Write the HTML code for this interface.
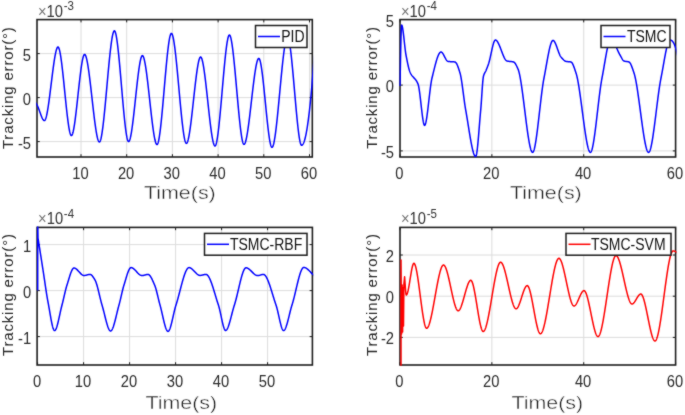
<!DOCTYPE html>
<html><head><meta charset="utf-8"><style>
html,body{margin:0;padding:0;background:#fff;}
svg{display:block;}
text{font-family:"Liberation Sans", sans-serif;}
.tk{font-size:16px;fill:#2a2a2a;}
.ex{font-size:16px;fill:#333;}
.mul{fill:#777;}
.sup{font-size:12.5px;}
.xl{font-size:18px;fill:#1a1a1a;stroke:#fff;stroke-width:0.4px;}
.yl{font-size:15px;fill:#262626;letter-spacing:0.82px;}
.lg{font-size:16px;fill:#111;}
</style></head><body>
<svg width="685" height="415" viewBox="0 0 685 415">
<defs><filter id="bl" filterUnits="userSpaceOnUse" x="0" y="0" width="685" height="415" color-interpolation-filters="sRGB"><feConvolveMatrix order="3" kernelMatrix="1 2 1 2 20 2 1 2 1" divisor="32" edgeMode="duplicate"/></filter></defs>
<rect width="685" height="415" fill="#fff"/>
<g filter="url(#bl)">
<line x1="81.0" y1="19.6" x2="81.0" y2="157.0" stroke="#dcdcdc" stroke-width="1"/>
<line x1="126.7" y1="19.6" x2="126.7" y2="157.0" stroke="#dcdcdc" stroke-width="1"/>
<line x1="172.40000000000003" y1="19.6" x2="172.40000000000003" y2="157.0" stroke="#dcdcdc" stroke-width="1"/>
<line x1="218.10000000000002" y1="19.6" x2="218.10000000000002" y2="157.0" stroke="#dcdcdc" stroke-width="1"/>
<line x1="263.8" y1="19.6" x2="263.8" y2="157.0" stroke="#dcdcdc" stroke-width="1"/>
<line x1="309.50000000000006" y1="19.6" x2="309.50000000000006" y2="157.0" stroke="#dcdcdc" stroke-width="1"/>
<line x1="37" y1="53.6" x2="312.3" y2="53.6" stroke="#dcdcdc" stroke-width="1"/>
<line x1="37" y1="97.6" x2="312.3" y2="97.6" stroke="#dcdcdc" stroke-width="1"/>
<line x1="37" y1="141.6" x2="312.3" y2="141.6" stroke="#dcdcdc" stroke-width="1"/>
<line x1="81.0" y1="157.0" x2="81.0" y2="154.2" stroke="#1e1e1e" stroke-width="1"/>
<line x1="81.0" y1="19.6" x2="81.0" y2="22.400000000000002" stroke="#1e1e1e" stroke-width="1"/>
<line x1="126.7" y1="157.0" x2="126.7" y2="154.2" stroke="#1e1e1e" stroke-width="1"/>
<line x1="126.7" y1="19.6" x2="126.7" y2="22.400000000000002" stroke="#1e1e1e" stroke-width="1"/>
<line x1="172.40000000000003" y1="157.0" x2="172.40000000000003" y2="154.2" stroke="#1e1e1e" stroke-width="1"/>
<line x1="172.40000000000003" y1="19.6" x2="172.40000000000003" y2="22.400000000000002" stroke="#1e1e1e" stroke-width="1"/>
<line x1="218.10000000000002" y1="157.0" x2="218.10000000000002" y2="154.2" stroke="#1e1e1e" stroke-width="1"/>
<line x1="218.10000000000002" y1="19.6" x2="218.10000000000002" y2="22.400000000000002" stroke="#1e1e1e" stroke-width="1"/>
<line x1="263.8" y1="157.0" x2="263.8" y2="154.2" stroke="#1e1e1e" stroke-width="1"/>
<line x1="263.8" y1="19.6" x2="263.8" y2="22.400000000000002" stroke="#1e1e1e" stroke-width="1"/>
<line x1="309.50000000000006" y1="157.0" x2="309.50000000000006" y2="154.2" stroke="#1e1e1e" stroke-width="1"/>
<line x1="309.50000000000006" y1="19.6" x2="309.50000000000006" y2="22.400000000000002" stroke="#1e1e1e" stroke-width="1"/>
<line x1="37" y1="53.6" x2="39.8" y2="53.6" stroke="#1e1e1e" stroke-width="1"/>
<line x1="312.3" y1="53.6" x2="309.5" y2="53.6" stroke="#1e1e1e" stroke-width="1"/>
<line x1="37" y1="97.6" x2="39.8" y2="97.6" stroke="#1e1e1e" stroke-width="1"/>
<line x1="312.3" y1="97.6" x2="309.5" y2="97.6" stroke="#1e1e1e" stroke-width="1"/>
<line x1="37" y1="141.6" x2="39.8" y2="141.6" stroke="#1e1e1e" stroke-width="1"/>
<line x1="312.3" y1="141.6" x2="309.5" y2="141.6" stroke="#1e1e1e" stroke-width="1"/>
<rect x="37" y="19.6" width="275.3" height="137.4" fill="none" stroke="#1e1e1e" stroke-width="1.6"/>
<clipPath id="c1"><rect x="36.2" y="18.8" width="276.90000000000003" height="139.0"/></clipPath>
<g clip-path="url(#c1)"><path d="M35.00,101.73 L35.25,102.12 L35.50,102.52 L35.75,102.92 L36.00,103.33 L36.25,103.74 L36.50,104.16 L36.75,104.58 L37.00,105.00 L37.25,105.45 L37.50,105.94 L37.75,106.48 L38.00,107.05 L38.25,107.65 L38.50,108.28 L38.75,108.94 L39.00,109.61 L39.25,110.30 L39.50,111.00 L39.75,111.71 L40.00,112.42 L40.25,113.12 L40.50,113.82 L40.75,114.51 L41.00,115.18 L41.25,115.84 L41.50,116.47 L41.75,117.07 L42.00,117.64 L42.25,118.17 L42.50,118.66 L42.75,119.11 L43.00,119.50 L43.25,119.84 L43.50,120.13 L43.75,120.35 L44.00,120.50 L44.25,120.59 L44.50,120.59 L44.75,120.46 L45.00,120.18 L45.25,119.77 L45.50,119.23 L45.75,118.57 L46.00,117.78 L46.25,116.88 L46.50,115.88 L46.75,114.77 L47.00,113.56 L47.25,112.26 L47.50,110.87 L47.75,109.40 L48.00,107.86 L48.25,106.24 L48.50,104.57 L48.75,102.83 L49.00,101.04 L49.25,99.20 L49.50,97.31 L49.75,95.39 L50.00,93.44 L50.25,91.46 L50.50,89.46 L50.75,87.45 L51.00,85.42 L51.25,83.39 L51.50,81.37 L51.75,79.35 L52.00,77.34 L52.25,75.34 L52.50,73.38 L52.75,71.44 L53.00,69.53 L53.25,67.66 L53.50,65.84 L53.75,64.07 L54.00,62.36 L54.25,60.70 L54.50,59.11 L54.75,57.60 L55.00,56.16 L55.25,54.81 L55.50,53.55 L55.75,52.38 L56.00,51.31 L56.25,50.34 L56.50,49.49 L56.75,48.75 L57.00,48.14 L57.25,47.65 L57.50,47.29 L57.75,47.07 L58.00,47.00 L58.25,47.09 L58.50,47.36 L58.75,47.80 L59.00,48.41 L59.25,49.17 L59.50,50.08 L59.75,51.14 L60.00,52.33 L60.25,53.66 L60.50,55.10 L60.75,56.66 L61.00,58.33 L61.25,60.11 L61.50,61.98 L61.75,63.93 L62.00,65.97 L62.25,68.08 L62.50,70.26 L62.75,72.51 L63.00,74.80 L63.25,77.14 L63.50,79.53 L63.75,81.94 L64.00,84.38 L64.25,86.84 L64.50,89.32 L64.75,91.80 L65.00,94.27 L65.25,96.74 L65.50,99.20 L65.75,101.63 L66.00,104.03 L66.25,106.40 L66.50,108.72 L66.75,111.00 L67.00,113.22 L67.25,115.37 L67.50,117.45 L67.75,119.46 L68.00,121.38 L68.25,123.21 L68.50,124.95 L68.75,126.58 L69.00,128.09 L69.25,129.49 L69.50,130.76 L69.75,131.90 L70.00,132.90 L70.25,133.75 L70.50,134.45 L70.75,134.99 L71.00,135.37 L71.25,135.57 L71.50,135.59 L71.75,135.43 L72.00,135.11 L72.25,134.63 L72.50,134.00 L72.75,133.23 L73.00,132.31 L73.25,131.26 L73.50,130.09 L73.75,128.80 L74.00,127.39 L74.25,125.88 L74.50,124.27 L74.75,122.56 L75.00,120.78 L75.25,118.91 L75.50,116.96 L75.75,114.96 L76.00,112.89 L76.25,110.77 L76.50,108.60 L76.75,106.40 L77.00,104.16 L77.25,101.89 L77.50,99.60 L77.75,97.31 L78.00,95.00 L78.25,92.69 L78.50,90.40 L78.75,88.11 L79.00,85.84 L79.25,83.60 L79.50,81.40 L79.75,79.23 L80.00,77.11 L80.25,75.04 L80.50,73.04 L80.75,71.09 L81.00,69.22 L81.25,67.44 L81.50,65.73 L81.75,64.12 L82.00,62.61 L82.25,61.20 L82.50,59.91 L82.75,58.74 L83.00,57.69 L83.25,56.77 L83.50,56.00 L83.75,55.37 L84.00,54.89 L84.25,54.57 L84.50,54.41 L84.75,54.43 L85.00,54.59 L85.25,54.89 L85.50,55.33 L85.75,55.90 L86.00,56.60 L86.25,57.42 L86.50,58.36 L86.75,59.41 L87.00,60.56 L87.25,61.82 L87.50,63.17 L87.75,64.62 L88.00,66.15 L88.25,67.76 L88.50,69.44 L88.75,71.20 L89.00,73.02 L89.25,74.91 L89.50,76.85 L89.75,78.84 L90.00,80.88 L90.25,82.95 L90.50,85.06 L90.75,87.21 L91.00,89.38 L91.25,91.56 L91.50,93.77 L91.75,95.98 L92.00,98.20 L92.25,100.42 L92.50,102.63 L92.75,104.84 L93.00,107.02 L93.25,109.19 L93.50,111.34 L93.75,113.45 L94.00,115.52 L94.25,117.56 L94.50,119.55 L94.75,121.49 L95.00,123.38 L95.25,125.20 L95.50,126.96 L95.75,128.64 L96.00,130.25 L96.25,131.78 L96.50,133.23 L96.75,134.58 L97.00,135.84 L97.25,136.99 L97.50,138.04 L97.75,138.98 L98.00,139.80 L98.25,140.50 L98.50,141.07 L98.75,141.51 L99.00,141.81 L99.25,141.97 L99.50,141.99 L99.75,141.82 L100.00,141.48 L100.25,140.97 L100.50,140.29 L100.75,139.46 L101.00,138.47 L101.25,137.34 L101.50,136.07 L101.75,134.67 L102.00,133.14 L102.25,131.48 L102.50,129.71 L102.75,127.84 L103.00,125.86 L103.25,123.78 L103.50,121.62 L103.75,119.37 L104.00,117.04 L104.25,114.64 L104.50,112.18 L104.75,109.65 L105.00,107.08 L105.25,104.45 L105.50,101.79 L105.75,99.09 L106.00,96.36 L106.25,93.61 L106.50,90.84 L106.75,88.07 L107.00,85.29 L107.25,82.51 L107.50,79.74 L107.75,76.99 L108.00,74.26 L108.25,71.55 L108.50,68.88 L108.75,66.25 L109.00,63.66 L109.25,61.12 L109.50,58.65 L109.75,56.23 L110.00,53.89 L110.25,51.63 L110.50,49.44 L110.75,47.35 L111.00,45.35 L111.25,43.45 L111.50,41.66 L111.75,39.99 L112.00,38.43 L112.25,37.00 L112.50,35.70 L112.75,34.54 L113.00,33.53 L113.25,32.66 L113.50,31.95 L113.75,31.41 L114.00,31.03 L114.25,30.83 L114.50,30.82 L114.75,31.00 L115.00,31.38 L115.25,31.94 L115.50,32.69 L115.75,33.61 L116.00,34.70 L116.25,35.95 L116.50,37.35 L116.75,38.90 L117.00,40.58 L117.25,42.40 L117.50,44.34 L117.75,46.39 L118.00,48.55 L118.25,50.82 L118.50,53.18 L118.75,55.62 L119.00,58.15 L119.25,60.75 L119.50,63.41 L119.75,66.13 L120.00,68.90 L120.25,71.72 L120.50,74.57 L120.75,77.45 L121.00,80.36 L121.25,83.28 L121.50,86.20 L121.75,89.12 L122.00,92.04 L122.25,94.95 L122.50,97.83 L122.75,100.68 L123.00,103.50 L123.25,106.27 L123.50,108.99 L123.75,111.65 L124.00,114.25 L124.25,116.78 L124.50,119.22 L124.75,121.58 L125.00,123.85 L125.25,126.01 L125.50,128.06 L125.75,130.00 L126.00,131.82 L126.25,133.50 L126.50,135.05 L126.75,136.45 L127.00,137.70 L127.25,138.79 L127.50,139.71 L127.75,140.46 L128.00,141.02 L128.25,141.40 L128.50,141.58 L128.75,141.57 L129.00,141.39 L129.25,141.05 L129.50,140.55 L129.75,139.91 L130.00,139.12 L130.25,138.21 L130.50,137.16 L130.75,135.99 L131.00,134.70 L131.25,133.30 L131.50,131.80 L131.75,130.20 L132.00,128.51 L132.25,126.73 L132.50,124.88 L132.75,122.95 L133.00,120.95 L133.25,118.89 L133.50,116.77 L133.75,114.61 L134.00,112.40 L134.25,110.16 L134.50,107.88 L134.75,105.58 L135.00,103.27 L135.25,100.94 L135.50,98.60 L135.75,96.26 L136.00,93.93 L136.25,91.62 L136.50,89.32 L136.75,87.04 L137.00,84.80 L137.25,82.59 L137.50,80.43 L137.75,78.31 L138.00,76.25 L138.25,74.25 L138.50,72.32 L138.75,70.47 L139.00,68.69 L139.25,67.00 L139.50,65.40 L139.75,63.90 L140.00,62.50 L140.25,61.21 L140.50,60.04 L140.75,58.99 L141.00,58.08 L141.25,57.29 L141.50,56.65 L141.75,56.15 L142.00,55.81 L142.25,55.63 L142.50,55.61 L142.75,55.75 L143.00,56.04 L143.25,56.47 L143.50,57.04 L143.75,57.74 L144.00,58.57 L144.25,59.52 L144.50,60.59 L144.75,61.78 L145.00,63.06 L145.25,64.45 L145.50,65.93 L145.75,67.51 L146.00,69.16 L146.25,70.90 L146.50,72.71 L146.75,74.59 L147.00,76.54 L147.25,78.54 L147.50,80.59 L147.75,82.69 L148.00,84.84 L148.25,87.02 L148.50,89.23 L148.75,91.46 L149.00,93.72 L149.25,95.99 L149.50,98.27 L149.75,100.56 L150.00,102.84 L150.25,105.12 L150.50,107.39 L150.75,109.63 L151.00,111.86 L151.25,114.06 L151.50,116.23 L151.75,118.35 L152.00,120.43 L152.25,122.47 L152.50,124.45 L152.75,126.37 L153.00,128.22 L153.25,130.00 L153.50,131.71 L153.75,133.33 L154.00,134.87 L154.25,136.32 L154.50,137.67 L154.75,138.91 L155.00,140.05 L155.25,141.07 L155.50,141.97 L155.75,142.75 L156.00,143.40 L156.25,143.92 L156.50,144.29 L156.75,144.52 L157.00,144.60 L157.25,144.50 L157.50,144.21 L157.75,143.73 L158.00,143.07 L158.25,142.23 L158.50,141.23 L158.75,140.07 L159.00,138.76 L159.25,137.30 L159.50,135.71 L159.75,133.98 L160.00,132.13 L160.25,130.16 L160.50,128.09 L160.75,125.90 L161.00,123.63 L161.25,121.26 L161.50,118.81 L161.75,116.28 L162.00,113.69 L162.25,111.04 L162.50,108.33 L162.75,105.57 L163.00,102.77 L163.25,99.94 L163.50,97.08 L163.75,94.21 L164.00,91.32 L164.25,88.42 L164.50,85.53 L164.75,82.64 L165.00,79.77 L165.25,76.92 L165.50,74.11 L165.75,71.32 L166.00,68.58 L166.25,65.90 L166.50,63.26 L166.75,60.70 L167.00,58.20 L167.25,55.78 L167.50,53.45 L167.75,51.21 L168.00,49.07 L168.25,47.04 L168.50,45.11 L168.75,43.31 L169.00,41.64 L169.25,40.10 L169.50,38.70 L169.75,37.45 L170.00,36.35 L170.25,35.41 L170.50,34.65 L170.75,34.06 L171.00,33.65 L171.25,33.44 L171.50,33.41 L171.75,33.58 L172.00,33.91 L172.25,34.42 L172.50,35.09 L172.75,35.91 L173.00,36.89 L173.25,38.01 L173.50,39.26 L173.75,40.65 L174.00,42.17 L174.25,43.80 L174.50,45.55 L174.75,47.41 L175.00,49.37 L175.25,51.42 L175.50,53.56 L175.75,55.79 L176.00,58.09 L176.25,60.46 L176.50,62.90 L176.75,65.40 L177.00,67.95 L177.25,70.54 L177.50,73.18 L177.75,75.85 L178.00,78.55 L178.25,81.27 L178.50,84.00 L178.75,86.75 L179.00,89.50 L179.25,92.25 L179.50,94.99 L179.75,97.71 L180.00,100.41 L180.25,103.09 L180.50,105.73 L180.75,108.34 L181.00,110.90 L181.25,113.40 L181.50,115.85 L181.75,118.24 L182.00,120.56 L182.25,122.80 L182.50,124.96 L182.75,127.03 L183.00,129.01 L183.25,130.88 L183.50,132.66 L183.75,134.31 L184.00,135.85 L184.25,137.27 L184.50,138.55 L184.75,139.70 L185.00,140.70 L185.25,141.56 L185.50,142.26 L185.75,142.80 L186.00,143.17 L186.25,143.37 L186.50,143.39 L186.75,143.25 L187.00,142.95 L187.25,142.51 L187.50,141.92 L187.75,141.21 L188.00,140.36 L188.25,139.38 L188.50,138.29 L188.75,137.08 L189.00,135.77 L189.25,134.36 L189.50,132.84 L189.75,131.24 L190.00,129.56 L190.25,127.79 L190.50,125.95 L190.75,124.04 L191.00,122.07 L191.25,120.05 L191.50,117.97 L191.75,115.85 L192.00,113.69 L192.25,111.49 L192.50,109.27 L192.75,107.02 L193.00,104.76 L193.25,102.48 L193.50,100.20 L193.75,97.92 L194.00,95.64 L194.25,93.38 L194.50,91.13 L194.75,88.91 L195.00,86.71 L195.25,84.55 L195.50,82.43 L195.75,80.35 L196.00,78.33 L196.25,76.36 L196.50,74.45 L196.75,72.61 L197.00,70.84 L197.25,69.16 L197.50,67.56 L197.75,66.04 L198.00,64.63 L198.25,63.32 L198.50,62.11 L198.75,61.02 L199.00,60.04 L199.25,59.19 L199.50,58.48 L199.75,57.89 L200.00,57.45 L200.25,57.15 L200.50,57.01 L200.75,57.03 L201.00,57.20 L201.25,57.53 L201.50,58.00 L201.75,58.61 L202.00,59.36 L202.25,60.24 L202.50,61.24 L202.75,62.36 L203.00,63.59 L203.25,64.93 L203.50,66.37 L203.75,67.91 L204.00,69.54 L204.25,71.26 L204.50,73.05 L204.75,74.92 L205.00,76.85 L205.25,78.85 L205.50,80.90 L205.75,83.01 L206.00,85.16 L206.25,87.35 L206.50,89.58 L206.75,91.83 L207.00,94.11 L207.25,96.41 L207.50,98.72 L207.75,101.04 L208.00,103.35 L208.25,105.67 L208.50,107.97 L208.75,110.26 L209.00,112.52 L209.25,114.76 L209.50,116.97 L209.75,119.14 L210.00,121.26 L210.25,123.34 L210.50,125.36 L210.75,127.32 L211.00,129.21 L211.25,131.04 L211.50,132.78 L211.75,134.45 L212.00,136.02 L212.25,137.50 L212.50,138.88 L212.75,140.16 L213.00,141.33 L213.25,142.38 L213.50,143.30 L213.75,144.10 L214.00,144.77 L214.25,145.30 L214.50,145.69 L214.75,145.92 L215.00,146.00 L215.25,145.90 L215.50,145.61 L215.75,145.13 L216.00,144.47 L216.25,143.64 L216.50,142.64 L216.75,141.48 L217.00,140.17 L217.25,138.72 L217.50,137.12 L217.75,135.40 L218.00,133.55 L218.25,131.59 L218.50,129.52 L218.75,127.34 L219.00,125.06 L219.25,122.70 L219.50,120.26 L219.75,117.73 L220.00,115.15 L220.25,112.50 L220.50,109.79 L220.75,107.04 L221.00,104.25 L221.25,101.42 L221.50,98.57 L221.75,95.70 L222.00,92.81 L222.25,89.92 L222.50,87.03 L222.75,84.15 L223.00,81.29 L223.25,78.45 L223.50,75.63 L223.75,72.85 L224.00,70.12 L224.25,67.44 L224.50,64.81 L224.75,62.25 L225.00,59.76 L225.25,57.34 L225.50,55.02 L225.75,52.78 L226.00,50.64 L226.25,48.61 L226.50,46.69 L226.75,44.89 L227.00,43.22 L227.25,41.68 L227.50,40.29 L227.75,39.04 L228.00,37.94 L228.25,37.01 L228.50,36.25 L228.75,35.66 L229.00,35.25 L229.25,35.04 L229.50,35.02 L229.75,35.19 L230.00,35.54 L230.25,36.07 L230.50,36.77 L230.75,37.63 L231.00,38.65 L231.25,39.82 L231.50,41.14 L231.75,42.59 L232.00,44.17 L232.25,45.88 L232.50,47.70 L232.75,49.64 L233.00,51.67 L233.25,53.81 L233.50,56.04 L233.75,58.35 L234.00,60.74 L234.25,63.20 L234.50,65.72 L234.75,68.30 L235.00,70.94 L235.25,73.62 L235.50,76.33 L235.75,79.08 L236.00,81.86 L236.25,84.65 L236.50,87.45 L236.75,90.26 L237.00,93.07 L237.25,95.87 L237.50,98.66 L237.75,101.42 L238.00,104.16 L238.25,106.86 L238.50,109.52 L238.75,112.14 L239.00,114.70 L239.25,117.20 L239.50,119.63 L239.75,121.99 L240.00,124.26 L240.25,126.46 L240.50,128.55 L240.75,130.55 L241.00,132.44 L241.25,134.22 L241.50,135.88 L241.75,137.41 L242.00,138.80 L242.25,140.06 L242.50,141.17 L242.75,142.13 L243.00,142.93 L243.25,143.56 L243.50,144.02 L243.75,144.30 L244.00,144.40 L244.25,144.33 L244.50,144.11 L244.75,143.76 L245.00,143.28 L245.25,142.66 L245.50,141.93 L245.75,141.08 L246.00,140.11 L246.25,139.04 L246.50,137.87 L246.75,136.60 L247.00,135.23 L247.25,133.78 L247.50,132.25 L247.75,130.63 L248.00,128.95 L248.25,127.20 L248.50,125.38 L248.75,123.51 L249.00,121.59 L249.25,119.61 L249.50,117.60 L249.75,115.54 L250.00,113.46 L250.25,111.34 L250.50,109.21 L250.75,107.05 L251.00,104.88 L251.25,102.71 L251.50,100.53 L251.75,98.35 L252.00,96.18 L252.25,94.02 L252.50,91.88 L252.75,89.76 L253.00,87.67 L253.25,85.61 L253.50,83.59 L253.75,81.61 L254.00,79.67 L254.25,77.79 L254.50,75.96 L254.75,74.20 L255.00,72.50 L255.25,70.87 L255.50,69.32 L255.75,67.85 L256.00,66.47 L256.25,65.18 L256.50,63.99 L256.75,62.89 L257.00,61.91 L257.25,61.03 L257.50,60.27 L257.75,59.64 L258.00,59.13 L258.25,58.75 L258.50,58.50 L258.75,58.40 L259.00,58.46 L259.25,58.70 L259.50,59.12 L259.75,59.72 L260.00,60.47 L260.25,61.39 L260.50,62.45 L260.75,63.65 L261.00,64.99 L261.25,66.46 L261.50,68.05 L261.75,69.75 L262.00,71.56 L262.25,73.46 L262.50,75.46 L262.75,77.54 L263.00,79.70 L263.25,81.92 L263.50,84.21 L263.75,86.56 L264.00,88.95 L264.25,91.39 L264.50,93.85 L264.75,96.35 L265.00,98.86 L265.25,101.38 L265.50,103.91 L265.75,106.44 L266.00,108.95 L266.25,111.45 L266.50,113.92 L266.75,116.36 L267.00,118.76 L267.25,121.12 L267.50,123.42 L267.75,125.66 L268.00,127.84 L268.25,129.93 L268.50,131.95 L268.75,133.87 L269.00,135.70 L269.25,137.42 L269.50,139.03 L269.75,140.52 L270.00,141.89 L270.25,143.12 L270.50,144.21 L270.75,145.16 L271.00,145.95 L271.25,146.57 L271.50,147.03 L271.75,147.31 L272.00,147.40 L272.25,147.31 L272.50,147.06 L272.75,146.65 L273.00,146.08 L273.25,145.36 L273.50,144.50 L273.75,143.50 L274.00,142.36 L274.25,141.10 L274.50,139.71 L274.75,138.21 L275.00,136.59 L275.25,134.87 L275.50,133.05 L275.75,131.14 L276.00,129.14 L276.25,127.05 L276.50,124.89 L276.75,122.65 L277.00,120.35 L277.25,117.98 L277.50,115.56 L277.75,113.09 L278.00,110.58 L278.25,108.03 L278.50,105.44 L278.75,102.82 L279.00,100.19 L279.25,97.53 L279.50,94.87 L279.75,92.20 L280.00,89.53 L280.25,86.87 L280.50,84.21 L280.75,81.58 L281.00,78.96 L281.25,76.37 L281.50,73.82 L281.75,71.31 L282.00,68.84 L282.25,66.42 L282.50,64.05 L282.75,61.75 L283.00,59.51 L283.25,57.35 L283.50,55.26 L283.75,53.26 L284.00,51.35 L284.25,49.53 L284.50,47.81 L284.75,46.19 L285.00,44.69 L285.25,43.30 L285.50,42.04 L285.75,40.90 L286.00,39.90 L286.25,39.04 L286.50,38.32 L286.75,37.75 L287.00,37.34 L287.25,37.09 L287.50,37.00 L287.75,37.10 L288.00,37.40 L288.25,37.89 L288.50,38.56 L288.75,39.40 L289.00,40.42 L289.25,41.59 L289.50,42.92 L289.75,44.39 L290.00,46.01 L290.25,47.75 L290.50,49.62 L290.75,51.61 L291.00,53.71 L291.25,55.91 L291.50,58.20 L291.75,60.59 L292.00,63.05 L292.25,65.59 L292.50,68.20 L292.75,70.86 L293.00,73.58 L293.25,76.34 L293.50,79.14 L293.75,81.97 L294.00,84.83 L294.25,87.70 L294.50,90.57 L294.75,93.45 L295.00,96.33 L295.25,99.19 L295.50,102.03 L295.75,104.84 L296.00,107.62 L296.25,110.36 L296.50,113.04 L296.75,115.67 L297.00,118.24 L297.25,120.74 L297.50,123.15 L297.75,125.49 L298.00,127.73 L298.25,129.86 L298.50,131.90 L298.75,133.81 L299.00,135.61 L299.25,137.28 L299.50,138.81 L299.75,140.20 L300.00,141.43 L300.25,142.51 L300.50,143.43 L300.75,144.17 L301.00,144.73 L301.25,145.10 L301.50,145.28 L301.75,145.29 L302.00,145.21 L302.25,145.06 L302.50,144.84 L302.75,144.55 L303.00,144.19 L303.25,143.75 L303.50,143.25 L303.75,142.68 L304.00,142.03 L304.25,141.32 L304.50,140.53 L304.75,139.67 L305.00,138.75 L305.25,137.75 L305.50,136.68 L305.75,135.55 L306.00,134.34 L306.25,133.06 L306.50,131.71 L306.75,130.30 L307.00,128.81 L307.25,127.25 L307.50,125.63 L307.75,123.93 L308.00,122.16 L308.25,120.33 L308.50,118.42 L308.75,116.45 L309.00,114.40 L309.25,112.29 L309.50,110.11 L309.75,107.86 L310.00,105.53 L310.25,103.14 L310.50,100.69 L310.75,98.16 L311.00,95.56 L311.25,92.89 L311.50,90.16 L311.75,87.36 L312.00,84.48 L312.25,81.54 L312.50,78.53 L312.75,75.46 L313.00,72.31 L313.25,69.10 L313.50,65.81 L313.75,62.46 L314.00,59.04 L314.25,55.56" fill="none" stroke="#0000ff" stroke-width="1.5" stroke-linejoin="round"/>
</g>
<text transform="translate(80.40,178.90) scale(0.92,1)" text-anchor="middle" class="tk">10</text>
<text transform="translate(126.10,178.90) scale(0.92,1)" text-anchor="middle" class="tk">20</text>
<text transform="translate(171.80,178.90) scale(0.92,1)" text-anchor="middle" class="tk">30</text>
<text transform="translate(217.50,178.90) scale(0.92,1)" text-anchor="middle" class="tk">40</text>
<text transform="translate(263.20,178.90) scale(0.92,1)" text-anchor="middle" class="tk">50</text>
<text transform="translate(308.90,178.90) scale(0.92,1)" text-anchor="middle" class="tk">60</text>
<text transform="translate(31.00,60.60) scale(0.92,1)" text-anchor="end" class="tk">5</text>
<text transform="translate(31.00,104.60) scale(0.92,1)" text-anchor="end" class="tk">0</text>
<text transform="translate(31.00,148.60) scale(0.92,1)" text-anchor="end" class="tk">-5</text>
<text transform="translate(38.00,16.60) scale(0.92,1)" class="ex"><tspan class="mul">×</tspan>10<tspan dx="0.8" dy="-6.9" class="sup">-3</tspan></text>
<text transform="translate(144,199.3) scale(1.19,1)" class="xl">Time(s)</text>
<text transform="translate(13.3,87.7) rotate(-90)" text-anchor="middle" class="yl">Tracking error(°)</text>
<rect x="255.5" y="25.5" width="51.5" height="22.0" fill="#fff" stroke="#1e1e1e" stroke-width="1.5"/>
<line x1="258.0" y1="36.5" x2="280.0" y2="36.5" stroke="#0000ff" stroke-width="1.5"/>
<text transform="translate(281.2,42.30) scale(0.875,1)" class="lg">PID</text>
<line x1="491.86" y1="19.6" x2="491.86" y2="157.0" stroke="#dcdcdc" stroke-width="1"/>
<line x1="583.72" y1="19.6" x2="583.72" y2="157.0" stroke="#dcdcdc" stroke-width="1"/>
<line x1="400" y1="85.1" x2="675.6" y2="85.1" stroke="#dcdcdc" stroke-width="1"/>
<line x1="400" y1="150.9" x2="675.6" y2="150.9" stroke="#dcdcdc" stroke-width="1"/>
<line x1="400.0" y1="157.0" x2="400.0" y2="154.2" stroke="#1e1e1e" stroke-width="1"/>
<line x1="400.0" y1="19.6" x2="400.0" y2="22.400000000000002" stroke="#1e1e1e" stroke-width="1"/>
<line x1="491.86" y1="157.0" x2="491.86" y2="154.2" stroke="#1e1e1e" stroke-width="1"/>
<line x1="491.86" y1="19.6" x2="491.86" y2="22.400000000000002" stroke="#1e1e1e" stroke-width="1"/>
<line x1="583.72" y1="157.0" x2="583.72" y2="154.2" stroke="#1e1e1e" stroke-width="1"/>
<line x1="583.72" y1="19.6" x2="583.72" y2="22.400000000000002" stroke="#1e1e1e" stroke-width="1"/>
<line x1="675.5799999999999" y1="157.0" x2="675.5799999999999" y2="154.2" stroke="#1e1e1e" stroke-width="1"/>
<line x1="675.5799999999999" y1="19.6" x2="675.5799999999999" y2="22.400000000000002" stroke="#1e1e1e" stroke-width="1"/>
<line x1="400" y1="19.5" x2="402.8" y2="19.5" stroke="#1e1e1e" stroke-width="1"/>
<line x1="675.6" y1="19.5" x2="672.8000000000001" y2="19.5" stroke="#1e1e1e" stroke-width="1"/>
<line x1="400" y1="85.1" x2="402.8" y2="85.1" stroke="#1e1e1e" stroke-width="1"/>
<line x1="675.6" y1="85.1" x2="672.8000000000001" y2="85.1" stroke="#1e1e1e" stroke-width="1"/>
<line x1="400" y1="150.9" x2="402.8" y2="150.9" stroke="#1e1e1e" stroke-width="1"/>
<line x1="675.6" y1="150.9" x2="672.8000000000001" y2="150.9" stroke="#1e1e1e" stroke-width="1"/>
<rect x="400" y="19.6" width="275.6" height="137.4" fill="none" stroke="#1e1e1e" stroke-width="1.6"/>
<clipPath id="c2"><rect x="399.2" y="18.8" width="277.20000000000005" height="139.0"/></clipPath>
<g clip-path="url(#c2)"><path d="M400.00,86.00 L400.25,73.08 L400.50,60.01 L400.75,47.75 L401.00,37.25 L401.25,29.48 L401.50,25.39 L401.75,25.08 L402.00,25.53 L402.25,26.34 L402.50,27.49 L402.75,28.92 L403.00,30.59 L403.25,32.47 L403.50,34.52 L403.75,36.69 L404.00,38.94 L404.25,41.23 L404.50,43.52 L404.75,45.77 L405.00,47.94 L405.25,49.99 L405.50,51.88 L405.75,53.56 L406.00,55.00 L406.25,56.30 L406.50,57.60 L406.75,58.88 L407.00,60.15 L407.25,61.40 L407.50,62.61 L407.75,63.79 L408.00,64.94 L408.25,66.04 L408.50,67.08 L408.75,68.07 L409.00,69.00 L409.25,69.87 L409.50,70.66 L409.75,71.37 L410.00,72.00 L410.25,72.57 L410.50,73.09 L410.75,73.58 L411.00,74.04 L411.25,74.46 L411.50,74.86 L411.75,75.23 L412.00,75.58 L412.25,75.91 L412.50,76.22 L412.75,76.52 L413.00,76.80 L413.25,77.08 L413.50,77.35 L413.75,77.61 L414.00,77.87 L414.25,78.14 L414.50,78.40 L414.75,78.67 L415.00,78.96 L415.25,79.25 L415.50,79.56 L415.75,79.88 L416.00,80.22 L416.25,80.59 L416.50,80.98 L416.75,81.40 L417.00,81.85 L417.25,82.33 L417.50,82.85 L417.75,83.40 L418.00,84.00 L418.25,84.75 L418.50,85.73 L418.75,86.94 L419.00,88.34 L419.25,89.92 L419.50,91.66 L419.75,93.52 L420.00,95.50 L420.25,97.57 L420.50,99.70 L420.75,101.88 L421.00,104.09 L421.25,106.30 L421.50,108.49 L421.75,110.63 L422.00,112.72 L422.25,114.72 L422.50,116.62 L422.75,118.39 L423.00,120.01 L423.25,121.45 L423.50,122.71 L423.75,123.75 L424.00,124.56 L424.25,125.11 L424.50,125.38 L424.75,125.35 L425.00,125.08 L425.25,124.58 L425.50,123.85 L425.75,122.93 L426.00,121.82 L426.25,120.53 L426.50,119.09 L426.75,117.51 L427.00,115.80 L427.25,113.97 L427.50,112.05 L427.75,110.05 L428.00,107.98 L428.25,105.86 L428.50,103.70 L428.75,101.52 L429.00,99.33 L429.25,97.15 L429.50,94.99 L429.75,92.87 L430.00,90.81 L430.25,88.81 L430.50,86.90 L430.75,85.08 L431.00,83.38 L431.25,81.80 L431.50,80.37 L431.75,79.10 L432.00,78.00 L432.25,76.99 L432.50,75.97 L432.75,74.95 L433.00,73.92 L433.25,72.90 L433.50,71.87 L433.75,70.85 L434.00,69.84 L434.25,68.84 L434.50,67.84 L434.75,66.85 L435.00,65.88 L435.25,64.93 L435.50,63.99 L435.75,63.08 L436.00,62.18 L436.25,61.31 L436.50,60.46 L436.75,59.65 L437.00,58.86 L437.25,58.11 L437.50,57.38 L437.75,56.70 L438.00,56.05 L438.25,55.45 L438.50,54.88 L438.75,54.36 L439.00,53.89 L439.25,53.46 L439.50,53.09 L439.75,52.76 L440.00,52.49 L440.25,52.28 L440.50,52.13 L440.75,52.03 L441.00,52.00 L441.25,52.03 L441.50,52.13 L441.75,52.29 L442.00,52.50 L442.25,52.76 L442.50,53.07 L442.75,53.42 L443.00,53.80 L443.25,54.21 L443.50,54.65 L443.75,55.11 L444.00,55.58 L444.25,56.07 L444.50,56.56 L444.75,57.05 L445.00,57.54 L445.25,58.02 L445.50,58.49 L445.75,58.94 L446.00,59.37 L446.25,59.77 L446.50,60.14 L446.75,60.47 L447.00,60.76 L447.25,61.00 L447.50,61.19 L447.75,61.33 L448.00,61.40 L448.25,61.44 L448.50,61.47 L448.75,61.50 L449.00,61.53 L449.25,61.55 L449.50,61.58 L449.75,61.60 L450.00,61.61 L450.25,61.63 L450.50,61.64 L450.75,61.65 L451.00,61.67 L451.25,61.68 L451.50,61.69 L451.75,61.70 L452.00,61.71 L452.25,61.72 L452.50,61.74 L452.75,61.75 L453.00,61.77 L453.25,61.79 L453.50,61.81 L453.75,61.83 L454.00,61.86 L454.25,61.89 L454.50,61.92 L454.75,61.96 L455.00,62.00 L455.25,62.08 L455.50,62.23 L455.75,62.45 L456.00,62.74 L456.25,63.08 L456.50,63.48 L456.75,63.93 L457.00,64.44 L457.25,64.99 L457.50,65.58 L457.75,66.21 L458.00,66.87 L458.25,67.57 L458.50,68.29 L458.75,69.04 L459.00,69.80 L459.25,70.59 L459.50,71.38 L459.75,72.19 L460.00,73.00 L460.25,73.89 L460.50,74.94 L460.75,76.12 L461.00,77.43 L461.25,78.86 L461.50,80.38 L461.75,82.00 L462.00,83.70 L462.25,85.46 L462.50,87.28 L462.75,89.14 L463.00,91.03 L463.25,92.93 L463.50,94.85 L463.75,96.75 L464.00,98.64 L464.25,100.49 L464.50,102.30 L464.75,104.05 L465.00,105.74 L465.25,107.35 L465.50,108.86 L465.75,110.28 L466.00,111.68 L466.25,113.11 L466.50,114.58 L466.75,116.07 L467.00,117.58 L467.25,119.11 L467.50,120.65 L467.75,122.21 L468.00,123.77 L468.25,125.34 L468.50,126.91 L468.75,128.47 L469.00,130.03 L469.25,131.58 L469.50,133.12 L469.75,134.64 L470.00,136.13 L470.25,137.61 L470.50,139.05 L470.75,140.46 L471.00,141.84 L471.25,143.18 L471.50,144.48 L471.75,145.73 L472.00,146.93 L472.25,148.08 L472.50,149.17 L472.75,150.21 L473.00,151.17 L473.25,152.08 L473.50,152.91 L473.75,153.66 L474.00,154.34 L474.25,154.93 L474.50,155.45 L474.75,155.87 L475.00,156.20 L475.25,156.43 L475.50,156.57 L475.75,156.59 L476.00,156.30 L476.25,155.61 L476.50,154.55 L476.75,153.16 L477.00,151.46 L477.25,149.48 L477.50,147.26 L477.75,144.82 L478.00,142.19 L478.25,139.41 L478.50,136.49 L478.75,133.48 L479.00,130.40 L479.25,127.29 L479.50,124.17 L479.75,121.06 L480.00,118.01 L480.25,115.04 L480.50,112.19 L480.75,109.46 L481.00,106.46 L481.25,103.11 L481.50,99.50 L481.75,95.77 L482.00,92.02 L482.25,88.39 L482.50,84.98 L482.75,81.92 L483.00,79.32 L483.25,77.31 L483.50,76.00 L483.75,75.16 L484.00,74.44 L484.25,73.84 L484.50,73.31 L484.75,72.85 L485.00,72.41 L485.25,71.98 L485.50,71.54 L485.75,71.05 L486.00,70.50 L486.25,69.90 L486.50,69.29 L486.75,68.68 L487.00,68.05 L487.25,67.41 L487.50,66.76 L487.75,66.10 L488.00,65.42 L488.25,64.72 L488.50,64.00 L488.75,63.23 L489.00,62.39 L489.25,61.48 L489.50,60.51 L489.75,59.48 L490.00,58.42 L490.25,57.31 L490.50,56.18 L490.75,55.03 L491.00,53.87 L491.25,52.71 L491.50,51.55 L491.75,50.40 L492.00,49.27 L492.25,48.16 L492.50,47.10 L492.75,46.08 L493.00,45.11 L493.25,44.20 L493.50,43.35 L493.75,42.59 L494.00,41.90 L494.25,41.31 L494.50,40.82 L494.75,40.44 L495.00,40.17 L495.25,40.02 L495.50,40.00 L495.75,40.05 L496.00,40.16 L496.25,40.31 L496.50,40.51 L496.75,40.75 L497.00,41.04 L497.25,41.37 L497.50,41.73 L497.75,42.14 L498.00,42.57 L498.25,43.04 L498.50,43.54 L498.75,44.06 L499.00,44.61 L499.25,45.18 L499.50,45.77 L499.75,46.38 L500.00,47.00 L500.25,47.64 L500.50,48.28 L500.75,48.94 L501.00,49.59 L501.25,50.26 L501.50,50.92 L501.75,51.58 L502.00,52.24 L502.25,52.89 L502.50,53.53 L502.75,54.17 L503.00,54.79 L503.25,55.39 L503.50,55.98 L503.75,56.54 L504.00,57.08 L504.25,57.60 L504.50,58.09 L504.75,58.56 L505.00,58.99 L505.25,59.38 L505.50,59.74 L505.75,60.06 L506.00,60.34 L506.25,60.58 L506.50,60.77 L506.75,60.91 L507.00,61.00 L507.25,61.06 L507.50,61.12 L507.75,61.17 L508.00,61.21 L508.25,61.25 L508.50,61.29 L508.75,61.32 L509.00,61.35 L509.25,61.38 L509.50,61.40 L509.75,61.42 L510.00,61.45 L510.25,61.47 L510.50,61.49 L510.75,61.51 L511.00,61.54 L511.25,61.56 L511.50,61.59 L511.75,61.62 L512.00,61.66 L512.25,61.70 L512.50,61.74 L512.75,61.79 L513.00,61.84 L513.25,61.90 L513.50,61.97 L513.75,62.05 L514.00,62.19 L514.25,62.37 L514.50,62.59 L514.75,62.87 L515.00,63.18 L515.25,63.53 L515.50,63.91 L515.75,64.33 L516.00,64.78 L516.25,65.25 L516.50,65.74 L516.75,66.25 L517.00,66.78 L517.25,67.32 L517.50,67.88 L517.75,68.44 L518.00,69.00 L518.25,69.62 L518.50,70.34 L518.75,71.16 L519.00,72.08 L519.25,73.09 L519.50,74.19 L519.75,75.37 L520.00,76.63 L520.25,77.97 L520.50,79.38 L520.75,80.86 L521.00,82.40 L521.25,84.00 L521.50,85.65 L521.75,87.36 L522.00,89.12 L522.25,90.91 L522.50,92.75 L522.75,94.63 L523.00,96.53 L523.25,98.46 L523.50,100.42 L523.75,102.39 L524.00,104.38 L524.25,106.39 L524.50,108.40 L524.75,110.41 L525.00,112.42 L525.25,114.42 L525.50,116.42 L525.75,118.41 L526.00,120.37 L526.25,122.32 L526.50,124.24 L526.75,126.14 L527.00,128.00 L527.25,129.82 L527.50,131.60 L527.75,133.34 L528.00,135.02 L528.25,136.66 L528.50,138.23 L528.75,139.75 L529.00,141.20 L529.25,142.58 L529.50,143.89 L529.75,145.12 L530.00,146.27 L530.25,147.33 L530.50,148.30 L530.75,149.18 L531.00,149.97 L531.25,150.65 L531.50,151.22 L531.75,151.69 L532.00,152.04 L532.25,152.28 L532.50,152.39 L532.75,152.37 L533.00,152.20 L533.25,151.88 L533.50,151.41 L533.75,150.81 L534.00,150.07 L534.25,149.21 L534.50,148.22 L534.75,147.12 L535.00,145.91 L535.25,144.60 L535.50,143.18 L535.75,141.68 L536.00,140.09 L536.25,138.42 L536.50,136.67 L536.75,134.85 L537.00,132.97 L537.25,131.04 L537.50,129.05 L537.75,127.01 L538.00,124.93 L538.25,122.82 L538.50,120.68 L538.75,118.52 L539.00,116.34 L539.25,114.15 L539.50,111.95 L539.75,109.76 L540.00,107.56 L540.25,105.38 L540.50,103.22 L540.75,101.08 L541.00,98.97 L541.25,96.90 L541.50,94.86 L541.75,92.87 L542.00,90.93 L542.25,89.06 L542.50,87.24 L542.75,85.49 L543.00,83.82 L543.25,82.23 L543.50,80.73 L543.75,79.31 L544.00,78.00 L544.25,76.72 L544.50,75.41 L544.75,74.08 L545.00,72.72 L545.25,71.34 L545.50,69.95 L545.75,68.55 L546.00,67.14 L546.25,65.73 L546.50,64.32 L546.75,62.92 L547.00,61.52 L547.25,60.13 L547.50,58.76 L547.75,57.41 L548.00,56.08 L548.25,54.79 L548.50,53.52 L548.75,52.28 L549.00,51.09 L549.25,49.94 L549.50,48.84 L549.75,47.78 L550.00,46.78 L550.25,45.84 L550.50,44.96 L550.75,44.14 L551.00,43.40 L551.25,42.73 L551.50,42.13 L551.75,41.62 L552.00,41.19 L552.25,40.85 L552.50,40.60 L552.75,40.45 L553.00,40.40 L553.25,40.44 L553.50,40.55 L553.75,40.73 L554.00,40.98 L554.25,41.29 L554.50,41.66 L554.75,42.08 L555.00,42.54 L555.25,43.06 L555.50,43.61 L555.75,44.19 L556.00,44.81 L556.25,45.45 L556.50,46.12 L556.75,46.80 L557.00,47.50 L557.25,48.21 L557.50,48.92 L557.75,49.63 L558.00,50.34 L558.25,51.04 L558.50,51.73 L558.75,52.41 L559.00,53.06 L559.25,53.68 L559.50,54.28 L559.75,54.84 L560.00,55.37 L560.25,55.85 L560.50,56.29 L560.75,56.67 L561.00,57.00 L561.25,57.30 L561.50,57.60 L561.75,57.90 L562.00,58.19 L562.25,58.48 L562.50,58.76 L562.75,59.04 L563.00,59.31 L563.25,59.57 L563.50,59.82 L563.75,60.05 L564.00,60.27 L564.25,60.48 L564.50,60.67 L564.75,60.84 L565.00,61.00 L565.25,61.13 L565.50,61.25 L565.75,61.33 L566.00,61.40 L566.25,61.45 L566.50,61.49 L566.75,61.53 L567.00,61.56 L567.25,61.59 L567.50,61.61 L567.75,61.63 L568.00,61.65 L568.25,61.67 L568.50,61.69 L568.75,61.71 L569.00,61.73 L569.25,61.75 L569.50,61.77 L569.75,61.80 L570.00,61.83 L570.25,61.86 L570.50,61.90 L570.75,61.95 L571.00,62.00 L571.25,62.10 L571.50,62.27 L571.75,62.51 L572.00,62.82 L572.25,63.19 L572.50,63.62 L572.75,64.10 L573.00,64.62 L573.25,65.19 L573.50,65.80 L573.75,66.45 L574.00,67.12 L574.25,67.82 L574.50,68.53 L574.75,69.27 L575.00,70.01 L575.25,70.76 L575.50,71.51 L575.75,72.26 L576.00,73.00 L576.25,73.78 L576.50,74.65 L576.75,75.61 L577.00,76.64 L577.25,77.76 L577.50,78.95 L577.75,80.20 L578.00,81.53 L578.25,82.92 L578.50,84.37 L578.75,85.87 L579.00,87.43 L579.25,89.04 L579.50,90.69 L579.75,92.38 L580.00,94.11 L580.25,95.88 L580.50,97.67 L580.75,99.49 L581.00,101.34 L581.25,103.20 L581.50,105.08 L581.75,106.97 L582.00,108.87 L582.25,110.78 L582.50,112.68 L582.75,114.59 L583.00,116.48 L583.25,118.37 L583.50,120.24 L583.75,122.10 L584.00,123.94 L584.25,125.75 L584.50,127.53 L584.75,129.28 L585.00,131.00 L585.25,132.68 L585.50,134.31 L585.75,135.90 L586.00,137.44 L586.25,138.92 L586.50,140.35 L586.75,141.71 L587.00,143.01 L587.25,144.25 L587.50,145.41 L587.75,146.49 L588.00,147.50 L588.25,148.42 L588.50,149.26 L588.75,150.00 L589.00,150.66 L589.25,151.21 L589.50,151.66 L589.75,152.01 L590.00,152.25 L590.25,152.38 L590.50,152.39 L590.75,152.25 L591.00,151.97 L591.25,151.56 L591.50,151.00 L591.75,150.32 L592.00,149.52 L592.25,148.60 L592.50,147.57 L592.75,146.42 L593.00,145.18 L593.25,143.84 L593.50,142.41 L593.75,140.90 L594.00,139.30 L594.25,137.63 L594.50,135.89 L594.75,134.09 L595.00,132.23 L595.25,130.31 L595.50,128.35 L595.75,126.34 L596.00,124.30 L596.25,122.22 L596.50,120.12 L596.75,118.00 L597.00,115.86 L597.25,113.71 L597.50,111.55 L597.75,109.40 L598.00,107.25 L598.25,105.11 L598.50,102.99 L598.75,100.89 L599.00,98.81 L599.25,96.77 L599.50,94.77 L599.75,92.81 L600.00,90.90 L600.25,89.04 L600.50,87.24 L600.75,85.51 L601.00,83.85 L601.25,82.26 L601.50,80.75 L601.75,79.33 L602.00,78.00 L602.25,76.70 L602.50,75.36 L602.75,74.00 L603.00,72.61 L603.25,71.20 L603.50,69.77 L603.75,68.32 L604.00,66.87 L604.25,65.41 L604.50,63.95 L604.75,62.50 L605.00,61.05 L605.25,59.61 L605.50,58.19 L605.75,56.78 L606.00,55.40 L606.25,54.05 L606.50,52.73 L606.75,51.44 L607.00,50.20 L607.25,48.99 L607.50,47.84 L607.75,46.74 L608.00,45.69 L608.25,44.70 L608.50,43.78 L608.75,42.93 L609.00,42.15 L609.25,41.44 L609.50,40.82 L609.75,40.28 L610.00,39.83 L610.25,39.47 L610.50,39.21 L610.75,39.05 L611.00,39.00 L611.25,39.03 L611.50,39.10 L611.75,39.22 L612.00,39.39 L612.25,39.60 L612.50,39.85 L612.75,40.14 L613.00,40.46 L613.25,40.82 L613.50,41.21 L613.75,41.63 L614.00,42.08 L614.25,42.55 L614.50,43.04 L614.75,43.55 L615.00,44.08 L615.25,44.63 L615.50,45.19 L615.75,45.76 L616.00,46.34 L616.25,46.93 L616.50,47.52 L616.75,48.11 L617.00,48.71 L617.25,49.30 L617.50,49.88 L617.75,50.46 L618.00,51.03 L618.25,51.59 L618.50,52.14 L618.75,52.67 L619.00,53.18 L619.25,53.67 L619.50,54.14 L619.75,54.58 L620.00,55.00 L620.25,55.42 L620.50,55.85 L620.75,56.31 L621.00,56.77 L621.25,57.25 L621.50,57.71 L621.75,58.18 L622.00,58.62 L622.25,59.05 L622.50,59.45 L622.75,59.83 L623.00,60.16 L623.25,60.45 L623.50,60.69 L623.75,60.88 L624.00,61.00 L624.25,61.08 L624.50,61.16 L624.75,61.22 L625.00,61.28 L625.25,61.33 L625.50,61.37 L625.75,61.40 L626.00,61.44 L626.25,61.47 L626.50,61.50 L626.75,61.53 L627.00,61.56 L627.25,61.59 L627.50,61.63 L627.75,61.67 L628.00,61.72 L628.25,61.78 L628.50,61.84 L628.75,61.91 L629.00,62.00 L629.25,62.13 L629.50,62.32 L629.75,62.59 L630.00,62.91 L630.25,63.29 L630.50,63.72 L630.75,64.20 L631.00,64.73 L631.25,65.30 L631.50,65.90 L631.75,66.53 L632.00,67.19 L632.25,67.88 L632.50,68.59 L632.75,69.31 L633.00,70.04 L633.25,70.78 L633.50,71.52 L633.75,72.26 L634.00,73.00 L634.25,73.78 L634.50,74.64 L634.75,75.58 L635.00,76.61 L635.25,77.71 L635.50,78.88 L635.75,80.12 L636.00,81.43 L636.25,82.79 L636.50,84.22 L636.75,85.70 L637.00,87.23 L637.25,88.81 L637.50,90.43 L637.75,92.09 L638.00,93.79 L638.25,95.53 L638.50,97.29 L638.75,99.08 L639.00,100.89 L639.25,102.73 L639.50,104.57 L639.75,106.44 L640.00,108.31 L640.25,110.18 L640.50,112.06 L640.75,113.94 L641.00,115.81 L641.25,117.68 L641.50,119.53 L641.75,121.36 L642.00,123.18 L642.25,124.98 L642.50,126.75 L642.75,128.49 L643.00,130.20 L643.25,131.87 L643.50,133.50 L643.75,135.09 L644.00,136.63 L644.25,138.12 L644.50,139.56 L644.75,140.94 L645.00,142.26 L645.25,143.51 L645.50,144.70 L645.75,145.82 L646.00,146.86 L646.25,147.82 L646.50,148.70 L646.75,149.50 L647.00,150.21 L647.25,150.82 L647.50,151.34 L647.75,151.76 L648.00,152.08 L648.25,152.29 L648.50,152.39 L648.75,152.38 L649.00,152.23 L649.25,151.97 L649.50,151.58 L649.75,151.07 L650.00,150.46 L650.25,149.73 L650.50,148.91 L650.75,147.98 L651.00,146.96 L651.25,145.85 L651.50,144.65 L651.75,143.37 L652.00,142.01 L652.25,140.58 L652.50,139.08 L652.75,137.52 L653.00,135.89 L653.25,134.21 L653.50,132.48 L653.75,130.70 L654.00,128.88 L654.25,127.02 L654.50,125.13 L654.75,123.20 L655.00,121.25 L655.25,119.28 L655.50,117.29 L655.75,115.29 L656.00,113.28 L656.25,111.27 L656.50,109.25 L656.75,107.25 L657.00,105.25 L657.25,103.26 L657.50,101.29 L657.75,99.34 L658.00,97.42 L658.25,95.53 L658.50,93.68 L658.75,91.86 L659.00,90.09 L659.25,88.37 L659.50,86.70 L659.75,85.08 L660.00,83.52 L660.25,82.03 L660.50,80.61 L660.75,79.27 L661.00,78.00 L661.25,76.75 L661.50,75.47 L661.75,74.16 L662.00,72.82 L662.25,71.45 L662.50,70.07 L662.75,68.67 L663.00,67.26 L663.25,65.85 L663.50,64.43 L663.75,63.01 L664.00,61.60 L664.25,60.20 L664.50,58.81 L664.75,57.44 L665.00,56.09 L665.25,54.77 L665.50,53.47 L665.75,52.22 L666.00,51.00 L666.25,49.82 L666.50,48.69 L666.75,47.60 L667.00,46.58 L667.25,45.61 L667.50,44.70 L667.75,43.87 L668.00,43.10 L668.25,42.41 L668.50,41.79 L668.75,41.26 L669.00,40.82 L669.25,40.47 L669.50,40.21 L669.75,40.05 L670.00,40.00 L670.25,40.01 L670.50,40.05 L670.75,40.11 L671.00,40.19 L671.25,40.31 L671.50,40.45 L671.75,40.62 L672.00,40.83 L672.25,41.06 L672.50,41.33 L672.75,41.63 L673.00,41.97 L673.25,42.35 L673.50,42.76 L673.75,43.21 L674.00,43.70 L674.25,44.24 L674.50,44.81 L674.75,45.43 L675.00,46.10 L675.25,46.81 L675.50,47.57 L675.75,48.37 L676.00,49.23 L676.25,50.14 L676.50,51.09 L676.75,52.11 L677.00,53.17 L677.25,54.29 L677.50,55.47" fill="none" stroke="#0000ff" stroke-width="1.5" stroke-linejoin="round"/>
</g>
<text transform="translate(399.40,178.90) scale(0.92,1)" text-anchor="middle" class="tk">0</text>
<text transform="translate(491.26,178.90) scale(0.92,1)" text-anchor="middle" class="tk">20</text>
<text transform="translate(583.12,178.90) scale(0.92,1)" text-anchor="middle" class="tk">40</text>
<text transform="translate(674.98,178.90) scale(0.92,1)" text-anchor="middle" class="tk">60</text>
<text transform="translate(394.00,26.50) scale(0.92,1)" text-anchor="end" class="tk">5</text>
<text transform="translate(394.00,92.10) scale(0.92,1)" text-anchor="end" class="tk">0</text>
<text transform="translate(394.00,157.90) scale(0.92,1)" text-anchor="end" class="tk">-5</text>
<text transform="translate(401.00,16.60) scale(0.92,1)" class="ex"><tspan class="mul">×</tspan>10<tspan dx="0.8" dy="-6.9" class="sup">-4</tspan></text>
<text transform="translate(510,199.3) scale(1.19,1)" class="xl">Time(s)</text>
<text transform="translate(377,87.5) rotate(-90)" text-anchor="middle" class="yl">Tracking error(°)</text>
<rect x="601" y="25.5" width="69" height="22.0" fill="#fff" stroke="#1e1e1e" stroke-width="1.5"/>
<line x1="603.5" y1="36.5" x2="625.5" y2="36.5" stroke="#0000ff" stroke-width="1.5"/>
<text transform="translate(627,42.30) scale(0.875,1)" class="lg">TSMC</text>
<line x1="83.6" y1="227.4" x2="83.6" y2="365.0" stroke="#dcdcdc" stroke-width="1"/>
<line x1="129.6" y1="227.4" x2="129.6" y2="365.0" stroke="#dcdcdc" stroke-width="1"/>
<line x1="175.6" y1="227.4" x2="175.6" y2="365.0" stroke="#dcdcdc" stroke-width="1"/>
<line x1="221.6" y1="227.4" x2="221.6" y2="365.0" stroke="#dcdcdc" stroke-width="1"/>
<line x1="267.59999999999997" y1="227.4" x2="267.59999999999997" y2="365.0" stroke="#dcdcdc" stroke-width="1"/>
<line x1="37.1" y1="244.6" x2="312.4" y2="244.6" stroke="#dcdcdc" stroke-width="1"/>
<line x1="37.1" y1="290.6" x2="312.4" y2="290.6" stroke="#dcdcdc" stroke-width="1"/>
<line x1="37.1" y1="336.6" x2="312.4" y2="336.6" stroke="#dcdcdc" stroke-width="1"/>
<line x1="37.6" y1="365.0" x2="37.6" y2="362.2" stroke="#1e1e1e" stroke-width="1"/>
<line x1="37.6" y1="227.4" x2="37.6" y2="230.20000000000002" stroke="#1e1e1e" stroke-width="1"/>
<line x1="83.6" y1="365.0" x2="83.6" y2="362.2" stroke="#1e1e1e" stroke-width="1"/>
<line x1="83.6" y1="227.4" x2="83.6" y2="230.20000000000002" stroke="#1e1e1e" stroke-width="1"/>
<line x1="129.6" y1="365.0" x2="129.6" y2="362.2" stroke="#1e1e1e" stroke-width="1"/>
<line x1="129.6" y1="227.4" x2="129.6" y2="230.20000000000002" stroke="#1e1e1e" stroke-width="1"/>
<line x1="175.6" y1="365.0" x2="175.6" y2="362.2" stroke="#1e1e1e" stroke-width="1"/>
<line x1="175.6" y1="227.4" x2="175.6" y2="230.20000000000002" stroke="#1e1e1e" stroke-width="1"/>
<line x1="221.6" y1="365.0" x2="221.6" y2="362.2" stroke="#1e1e1e" stroke-width="1"/>
<line x1="221.6" y1="227.4" x2="221.6" y2="230.20000000000002" stroke="#1e1e1e" stroke-width="1"/>
<line x1="267.59999999999997" y1="365.0" x2="267.59999999999997" y2="362.2" stroke="#1e1e1e" stroke-width="1"/>
<line x1="267.59999999999997" y1="227.4" x2="267.59999999999997" y2="230.20000000000002" stroke="#1e1e1e" stroke-width="1"/>
<line x1="37.1" y1="244.6" x2="39.9" y2="244.6" stroke="#1e1e1e" stroke-width="1"/>
<line x1="312.4" y1="244.6" x2="309.59999999999997" y2="244.6" stroke="#1e1e1e" stroke-width="1"/>
<line x1="37.1" y1="290.6" x2="39.9" y2="290.6" stroke="#1e1e1e" stroke-width="1"/>
<line x1="312.4" y1="290.6" x2="309.59999999999997" y2="290.6" stroke="#1e1e1e" stroke-width="1"/>
<line x1="37.1" y1="336.6" x2="39.9" y2="336.6" stroke="#1e1e1e" stroke-width="1"/>
<line x1="312.4" y1="336.6" x2="309.59999999999997" y2="336.6" stroke="#1e1e1e" stroke-width="1"/>
<rect x="37.1" y="227.4" width="275.29999999999995" height="137.6" fill="none" stroke="#1e1e1e" stroke-width="1.6"/>
<clipPath id="c3"><rect x="36.300000000000004" y="226.6" width="276.9" height="139.2"/></clipPath>
<g clip-path="url(#c3)"><path d="M37.7,290.6 L37.7,222 L38.00,238.00 L38.25,239.60 L38.50,241.20 L38.75,242.80 L39.00,244.40 L39.25,246.00 L39.50,247.60 L39.75,249.20 L40.00,250.80 L40.25,252.40 L40.50,254.00 L40.75,255.60 L41.00,257.20 L41.25,258.80 L41.50,260.40 L41.75,262.00 L42.00,263.60 L42.25,265.20 L42.50,266.80 L42.75,268.40 L43.00,270.00 L43.25,271.61 L43.50,273.25 L43.75,274.91 L44.00,276.59 L44.25,278.28 L44.50,279.97 L44.75,281.67 L45.00,283.37 L45.25,285.06 L45.50,286.74 L45.75,288.41 L46.00,290.05 L46.25,291.68 L46.50,293.27 L46.75,294.83 L47.00,296.36 L47.25,297.84 L47.50,299.28 L47.75,300.67 L48.00,302.00 L48.25,303.33 L48.50,304.69 L48.75,306.10 L49.00,307.52 L49.25,308.97 L49.50,310.43 L49.75,311.89 L50.00,313.35 L50.25,314.80 L50.50,316.23 L50.75,317.64 L51.00,319.01 L51.25,320.34 L51.50,321.62 L51.75,322.85 L52.00,324.02 L52.25,325.11 L52.50,326.13 L52.75,327.06 L53.00,327.90 L53.25,328.64 L53.50,329.28 L53.75,329.80 L54.00,330.19 L54.25,330.46 L54.50,330.59 L54.75,330.58 L55.00,330.46 L55.25,330.24 L55.50,329.91 L55.75,329.50 L56.00,329.00 L56.25,328.41 L56.50,327.76 L56.75,327.02 L57.00,326.23 L57.25,325.37 L57.50,324.46 L57.75,323.50 L58.00,322.50 L58.25,321.46 L58.50,320.39 L58.75,319.29 L59.00,318.16 L59.25,317.03 L59.50,315.88 L59.75,314.72 L60.00,313.57 L60.25,312.42 L60.50,311.28 L60.75,310.16 L61.00,309.06 L61.25,307.99 L61.50,306.96 L61.75,305.96 L62.00,305.00 L62.25,304.05 L62.50,303.07 L62.75,302.06 L63.00,301.02 L63.25,299.97 L63.50,298.91 L63.75,297.83 L64.00,296.75 L64.25,295.66 L64.50,294.59 L64.75,293.51 L65.00,292.46 L65.25,291.42 L65.50,290.40 L65.75,289.41 L66.00,288.44 L66.25,287.52 L66.50,286.63 L66.75,285.79 L67.00,285.00 L67.25,284.22 L67.50,283.43 L67.75,282.62 L68.00,281.81 L68.25,280.98 L68.50,280.16 L68.75,279.33 L69.00,278.50 L69.25,277.69 L69.50,276.88 L69.75,276.08 L70.00,275.31 L70.25,274.55 L70.50,273.82 L70.75,273.11 L71.00,272.44 L71.25,271.80 L71.50,271.20 L71.75,270.64 L72.00,270.12 L72.25,269.65 L72.50,269.23 L72.75,268.87 L73.00,268.57 L73.25,268.32 L73.50,268.15 L73.75,268.04 L74.00,268.00 L74.25,268.01 L74.50,268.05 L74.75,268.12 L75.00,268.21 L75.25,268.32 L75.50,268.46 L75.75,268.61 L76.00,268.78 L76.25,268.97 L76.50,269.17 L76.75,269.39 L77.00,269.62 L77.25,269.86 L77.50,270.11 L77.75,270.37 L78.00,270.64 L78.25,270.91 L78.50,271.19 L78.75,271.47 L79.00,271.75 L79.25,272.03 L79.50,272.31 L79.75,272.59 L80.00,272.86 L80.25,273.13 L80.50,273.39 L80.75,273.64 L81.00,273.88 L81.25,274.11 L81.50,274.33 L81.75,274.53 L82.00,274.72 L82.25,274.89 L82.50,275.04 L82.75,275.18 L83.00,275.29 L83.25,275.38 L83.50,275.45 L83.75,275.49 L84.00,275.50 L84.25,275.49 L84.50,275.48 L84.75,275.45 L85.00,275.42 L85.25,275.38 L85.50,275.33 L85.75,275.27 L86.00,275.21 L86.25,275.15 L86.50,275.09 L86.75,275.02 L87.00,274.95 L87.25,274.88 L87.50,274.81 L87.75,274.75 L88.00,274.69 L88.25,274.63 L88.50,274.57 L88.75,274.52 L89.00,274.48 L89.25,274.45 L89.50,274.42 L89.75,274.41 L90.00,274.40 L90.25,274.42 L90.50,274.48 L90.75,274.58 L91.00,274.72 L91.25,274.89 L91.50,275.09 L91.75,275.32 L92.00,275.58 L92.25,275.86 L92.50,276.16 L92.75,276.49 L93.00,276.84 L93.25,277.20 L93.50,277.57 L93.75,277.96 L94.00,278.36 L94.25,278.76 L94.50,279.17 L94.75,279.59 L95.00,280.00 L95.25,280.45 L95.50,280.97 L95.75,281.55 L96.00,282.20 L96.25,282.90 L96.50,283.66 L96.75,284.46 L97.00,285.31 L97.25,286.19 L97.50,287.12 L97.75,288.07 L98.00,289.05 L98.25,290.05 L98.50,291.08 L98.75,292.11 L99.00,293.16 L99.25,294.21 L99.50,295.27 L99.75,296.32 L100.00,297.37 L100.25,298.40 L100.50,299.43 L100.75,300.43 L101.00,301.41 L101.25,302.36 L101.50,303.27 L101.75,304.16 L102.00,305.00 L102.25,305.84 L102.50,306.71 L102.75,307.61 L103.00,308.54 L103.25,309.49 L103.50,310.45 L103.75,311.44 L104.00,312.43 L104.25,313.44 L104.50,314.44 L104.75,315.45 L105.00,316.46 L105.25,317.46 L105.50,318.46 L105.75,319.44 L106.00,320.40 L106.25,321.34 L106.50,322.27 L106.75,323.16 L107.00,324.02 L107.25,324.85 L107.50,325.65 L107.75,326.40 L108.00,327.11 L108.25,327.77 L108.50,328.38 L108.75,328.93 L109.00,329.43 L109.25,329.87 L109.50,330.24 L109.75,330.54 L110.00,330.77 L110.25,330.92 L110.50,330.99 L110.75,330.98 L111.00,330.89 L111.25,330.72 L111.50,330.47 L111.75,330.15 L112.00,329.76 L112.25,329.30 L112.50,328.78 L112.75,328.21 L113.00,327.57 L113.25,326.89 L113.50,326.16 L113.75,325.38 L114.00,324.56 L114.25,323.70 L114.50,322.81 L114.75,321.89 L115.00,320.94 L115.25,319.97 L115.50,318.98 L115.75,317.97 L116.00,316.95 L116.25,315.92 L116.50,314.89 L116.75,313.85 L117.00,312.82 L117.25,311.78 L117.50,310.76 L117.75,309.75 L118.00,308.76 L118.25,307.78 L118.50,306.83 L118.75,305.90 L119.00,305.00 L119.25,304.10 L119.50,303.15 L119.75,302.17 L120.00,301.16 L120.25,300.12 L120.50,299.07 L120.75,297.99 L121.00,296.91 L121.25,295.82 L121.50,294.74 L121.75,293.65 L122.00,292.58 L122.25,291.53 L122.50,290.49 L122.75,289.48 L123.00,288.50 L123.25,287.56 L123.50,286.66 L123.75,285.80 L124.00,285.00 L124.25,284.21 L124.50,283.41 L124.75,282.59 L125.00,281.75 L125.25,280.91 L125.50,280.07 L125.75,279.22 L126.00,278.38 L126.25,277.54 L126.50,276.72 L126.75,275.90 L127.00,275.11 L127.25,274.33 L127.50,273.58 L127.75,272.86 L128.00,272.17 L128.25,271.51 L128.50,270.89 L128.75,270.31 L129.00,269.78 L129.25,269.30 L129.50,268.87 L129.75,268.50 L130.00,268.18 L130.25,267.93 L130.50,267.75 L130.75,267.64 L131.00,267.60 L131.25,267.61 L131.50,267.65 L131.75,267.71 L132.00,267.79 L132.25,267.89 L132.50,268.01 L132.75,268.14 L133.00,268.30 L133.25,268.47 L133.50,268.65 L133.75,268.85 L134.00,269.06 L134.25,269.28 L134.50,269.51 L134.75,269.76 L135.00,270.00 L135.25,270.26 L135.50,270.52 L135.75,270.79 L136.00,271.06 L136.25,271.33 L136.50,271.60 L136.75,271.87 L137.00,272.14 L137.25,272.41 L137.50,272.68 L137.75,272.94 L138.00,273.20 L138.25,273.44 L138.50,273.69 L138.75,273.92 L139.00,274.14 L139.25,274.35 L139.50,274.55 L139.75,274.73 L140.00,274.90 L140.25,275.06 L140.50,275.19 L140.75,275.31 L141.00,275.41 L141.25,275.49 L141.50,275.55 L141.75,275.59 L142.00,275.60 L142.25,275.59 L142.50,275.58 L142.75,275.55 L143.00,275.51 L143.25,275.47 L143.50,275.41 L143.75,275.35 L144.00,275.29 L144.25,275.22 L144.50,275.15 L144.75,275.07 L145.00,275.00 L145.25,274.93 L145.50,274.85 L145.75,274.78 L146.00,274.71 L146.25,274.65 L146.50,274.59 L146.75,274.53 L147.00,274.49 L147.25,274.45 L147.50,274.42 L147.75,274.41 L148.00,274.40 L148.25,274.42 L148.50,274.49 L148.75,274.61 L149.00,274.76 L149.25,274.96 L149.50,275.20 L149.75,275.47 L150.00,275.77 L150.25,276.11 L150.50,276.47 L150.75,276.87 L151.00,277.29 L151.25,277.74 L151.50,278.20 L151.75,278.69 L152.00,279.19 L152.25,279.71 L152.50,280.25 L152.75,280.79 L153.00,281.35 L153.25,281.91 L153.50,282.48 L153.75,283.05 L154.00,283.63 L154.25,284.20 L154.50,284.77 L154.75,285.35 L155.00,286.00 L155.25,286.70 L155.50,287.46 L155.75,288.28 L156.00,289.14 L156.25,290.04 L156.50,290.98 L156.75,291.95 L157.00,292.95 L157.25,293.96 L157.50,294.99 L157.75,296.04 L158.00,297.08 L158.25,298.13 L158.50,299.17 L158.75,300.20 L159.00,301.21 L159.25,302.21 L159.50,303.17 L159.75,304.10 L160.00,305.00 L160.25,305.90 L160.50,306.84 L160.75,307.81 L161.00,308.82 L161.25,309.85 L161.50,310.91 L161.75,311.98 L162.00,313.07 L162.25,314.16 L162.50,315.26 L162.75,316.36 L163.00,317.46 L163.25,318.54 L163.50,319.62 L163.75,320.67 L164.00,321.70 L164.25,322.71 L164.50,323.68 L164.75,324.62 L165.00,325.51 L165.25,326.36 L165.50,327.16 L165.75,327.90 L166.00,328.59 L166.25,329.21 L166.50,329.76 L166.75,330.25 L167.00,330.65 L167.25,330.97 L167.50,331.21 L167.75,331.35 L168.00,331.40 L168.25,331.35 L168.50,331.19 L168.75,330.94 L169.00,330.60 L169.25,330.18 L169.50,329.67 L169.75,329.09 L170.00,328.43 L170.25,327.72 L170.50,326.94 L170.75,326.10 L171.00,325.22 L171.25,324.29 L171.50,323.32 L171.75,322.32 L172.00,321.29 L172.25,320.24 L172.50,319.16 L172.75,318.07 L173.00,316.98 L173.25,315.87 L173.50,314.78 L173.75,313.68 L174.00,312.60 L174.25,311.54 L174.50,310.50 L174.75,309.48 L175.00,308.50 L175.25,307.56 L175.50,306.65 L175.75,305.80 L176.00,305.00 L176.25,304.22 L176.50,303.41 L176.75,302.58 L177.00,301.74 L177.25,300.87 L177.50,299.99 L177.75,299.10 L178.00,298.19 L178.25,297.27 L178.50,296.34 L178.75,295.40 L179.00,294.46 L179.25,293.51 L179.50,292.55 L179.75,291.59 L180.00,290.63 L180.25,289.67 L180.50,288.71 L180.75,287.76 L181.00,286.81 L181.25,285.86 L181.50,284.92 L181.75,283.99 L182.00,283.08 L182.25,282.17 L182.50,281.28 L182.75,280.40 L183.00,279.54 L183.25,278.69 L183.50,277.87 L183.75,277.07 L184.00,276.28 L184.25,275.53 L184.50,274.79 L184.75,274.09 L185.00,273.41 L185.25,272.76 L185.50,272.14 L185.75,271.56 L186.00,271.01 L186.25,270.50 L186.50,270.02 L186.75,269.58 L187.00,269.18 L187.25,268.82 L187.50,268.51 L187.75,268.24 L188.00,268.01 L188.25,267.83 L188.50,267.70 L188.75,267.63 L189.00,267.60 L189.25,267.61 L189.50,267.65 L189.75,267.70 L190.00,267.78 L190.25,267.88 L190.50,268.00 L190.75,268.13 L191.00,268.28 L191.25,268.45 L191.50,268.63 L191.75,268.82 L192.00,269.02 L192.25,269.24 L192.50,269.47 L192.75,269.70 L193.00,269.94 L193.25,270.19 L193.50,270.45 L193.75,270.71 L194.00,270.97 L194.25,271.23 L194.50,271.50 L194.75,271.77 L195.00,272.03 L195.25,272.29 L195.50,272.55 L195.75,272.81 L196.00,273.06 L196.25,273.30 L196.50,273.53 L196.75,273.76 L197.00,273.98 L197.25,274.18 L197.50,274.37 L197.75,274.55 L198.00,274.72 L198.25,274.87 L198.50,275.00 L198.75,275.12 L199.00,275.22 L199.25,275.30 L199.50,275.35 L199.75,275.39 L200.00,275.40 L200.25,275.39 L200.50,275.38 L200.75,275.36 L201.00,275.33 L201.25,275.29 L201.50,275.24 L201.75,275.19 L202.00,275.14 L202.25,275.08 L202.50,275.02 L202.75,274.96 L203.00,274.90 L203.25,274.84 L203.50,274.78 L203.75,274.72 L204.00,274.66 L204.25,274.61 L204.50,274.56 L204.75,274.51 L205.00,274.47 L205.25,274.44 L205.50,274.42 L205.75,274.41 L206.00,274.40 L206.25,274.42 L206.50,274.49 L206.75,274.60 L207.00,274.75 L207.25,274.94 L207.50,275.16 L207.75,275.43 L208.00,275.73 L208.25,276.07 L208.50,276.44 L208.75,276.84 L209.00,277.28 L209.25,277.75 L209.50,278.24 L209.75,278.77 L210.00,279.31 L210.25,279.89 L210.50,280.49 L210.75,281.11 L211.00,281.76 L211.25,282.42 L211.50,283.11 L211.75,283.81 L212.00,284.53 L212.25,285.27 L212.50,286.02 L212.75,286.78 L213.00,287.56 L213.25,288.35 L213.50,289.14 L213.75,289.95 L214.00,290.76 L214.25,291.58 L214.50,292.41 L214.75,293.24 L215.00,294.07 L215.25,294.90 L215.50,295.73 L215.75,296.56 L216.00,297.39 L216.25,298.22 L216.50,299.04 L216.75,299.85 L217.00,300.66 L217.25,301.46 L217.50,302.25 L217.75,303.03 L218.00,303.80 L218.25,304.55 L218.50,305.30 L218.75,306.11 L219.00,306.99 L219.25,307.94 L219.50,308.94 L219.75,309.99 L220.00,311.08 L220.25,312.20 L220.50,313.36 L220.75,314.53 L221.00,315.71 L221.25,316.90 L221.50,318.08 L221.75,319.25 L222.00,320.41 L222.25,321.54 L222.50,322.64 L222.75,323.69 L223.00,324.70 L223.25,325.65 L223.50,326.54 L223.75,327.36 L224.00,328.10 L224.25,328.75 L224.50,329.32 L224.75,329.78 L225.00,330.13 L225.25,330.37 L225.50,330.49 L225.75,330.49 L226.00,330.40 L226.25,330.24 L226.50,330.01 L226.75,329.70 L227.00,329.34 L227.25,328.91 L227.50,328.42 L227.75,327.88 L228.00,327.29 L228.25,326.65 L228.50,325.96 L228.75,325.24 L229.00,324.47 L229.25,323.67 L229.50,322.84 L229.75,321.98 L230.00,321.09 L230.25,320.18 L230.50,319.26 L230.75,318.32 L231.00,317.37 L231.25,316.41 L231.50,315.44 L231.75,314.48 L232.00,313.51 L232.25,312.55 L232.50,311.60 L232.75,310.66 L233.00,309.74 L233.25,308.83 L233.50,307.95 L233.75,307.09 L234.00,306.26 L234.25,305.46 L234.50,304.69 L234.75,303.90 L235.00,303.07 L235.25,302.21 L235.50,301.32 L235.75,300.40 L236.00,299.46 L236.25,298.49 L236.50,297.51 L236.75,296.50 L237.00,295.48 L237.25,294.44 L237.50,293.39 L237.75,292.34 L238.00,291.27 L238.25,290.21 L238.50,289.14 L238.75,288.07 L239.00,287.00 L239.25,285.94 L239.50,284.89 L239.75,283.84 L240.00,282.81 L240.25,281.79 L240.50,280.79 L240.75,279.81 L241.00,278.85 L241.25,277.92 L241.50,277.01 L241.75,276.12 L242.00,275.27 L242.25,274.46 L242.50,273.68 L242.75,272.93 L243.00,272.23 L243.25,271.57 L243.50,270.95 L243.75,270.39 L244.00,269.87 L244.25,269.40 L244.50,268.99 L244.75,268.64 L245.00,268.34 L245.25,268.11 L245.50,267.94 L245.75,267.84 L246.00,267.80 L246.25,267.81 L246.50,267.84 L246.75,267.89 L247.00,267.96 L247.25,268.05 L247.50,268.16 L247.75,268.28 L248.00,268.42 L248.25,268.57 L248.50,268.73 L248.75,268.91 L249.00,269.10 L249.25,269.29 L249.50,269.50 L249.75,269.72 L250.00,269.94 L250.25,270.17 L250.50,270.41 L250.75,270.65 L251.00,270.90 L251.25,271.15 L251.50,271.40 L251.75,271.65 L252.00,271.90 L252.25,272.15 L252.50,272.40 L252.75,272.65 L253.00,272.89 L253.25,273.13 L253.50,273.37 L253.75,273.59 L254.00,273.81 L254.25,274.02 L254.50,274.23 L254.75,274.42 L255.00,274.60 L255.25,274.77 L255.50,274.93 L255.75,275.07 L256.00,275.20 L256.25,275.31 L256.50,275.40 L256.75,275.48 L257.00,275.54 L257.25,275.58 L257.50,275.60 L257.75,275.60 L258.00,275.58 L258.25,275.56 L258.50,275.52 L258.75,275.48 L259.00,275.42 L259.25,275.36 L259.50,275.30 L259.75,275.23 L260.00,275.15 L260.25,275.08 L260.50,275.00 L260.75,274.92 L261.00,274.85 L261.25,274.77 L261.50,274.70 L261.75,274.64 L262.00,274.58 L262.25,274.52 L262.50,274.48 L262.75,274.44 L263.00,274.42 L263.25,274.40 L263.50,274.40 L263.75,274.44 L264.00,274.52 L264.25,274.65 L264.50,274.81 L264.75,275.01 L265.00,275.25 L265.25,275.52 L265.50,275.83 L265.75,276.18 L266.00,276.55 L266.25,276.96 L266.50,277.40 L266.75,277.87 L267.00,278.36 L267.25,278.89 L267.50,279.44 L267.75,280.01 L268.00,280.61 L268.25,281.23 L268.50,281.87 L268.75,282.53 L269.00,283.21 L269.25,283.90 L269.50,284.61 L269.75,285.34 L270.00,286.08 L270.25,286.84 L270.50,287.60 L270.75,288.38 L271.00,289.16 L271.25,289.96 L271.50,290.76 L271.75,291.57 L272.00,292.38 L272.25,293.19 L272.50,294.01 L272.75,294.82 L273.00,295.64 L273.25,296.46 L273.50,297.27 L273.75,298.08 L274.00,298.88 L274.25,299.68 L274.50,300.47 L274.75,301.25 L275.00,302.03 L275.25,302.79 L275.50,303.54 L275.75,304.28 L276.00,305.00 L276.25,305.75 L276.50,306.57 L276.75,307.44 L277.00,308.37 L277.25,309.35 L277.50,310.36 L277.75,311.41 L278.00,312.49 L278.25,313.59 L278.50,314.71 L278.75,315.83 L279.00,316.96 L279.25,318.09 L279.50,319.20 L279.75,320.30 L280.00,321.38 L280.25,322.43 L280.50,323.44 L280.75,324.41 L281.00,325.34 L281.25,326.21 L281.50,327.02 L281.75,327.76 L282.00,328.43 L282.25,329.03 L282.50,329.54 L282.75,329.95 L283.00,330.27 L283.25,330.49 L283.50,330.59 L283.75,330.58 L284.00,330.49 L284.25,330.31 L284.50,330.05 L284.75,329.71 L285.00,329.31 L285.25,328.84 L285.50,328.30 L285.75,327.70 L286.00,327.05 L286.25,326.34 L286.50,325.59 L286.75,324.80 L287.00,323.96 L287.25,323.09 L287.50,322.19 L287.75,321.26 L288.00,320.30 L288.25,319.33 L288.50,318.34 L288.75,317.33 L289.00,316.32 L289.25,315.31 L289.50,314.29 L289.75,313.28 L290.00,312.28 L290.25,311.28 L290.50,310.31 L290.75,309.35 L291.00,308.42 L291.25,307.51 L291.50,306.64 L291.75,305.80 L292.00,305.00 L292.25,304.20 L292.50,303.38 L292.75,302.52 L293.00,301.63 L293.25,300.71 L293.50,299.78 L293.75,298.81 L294.00,297.83 L294.25,296.83 L294.50,295.82 L294.75,294.79 L295.00,293.75 L295.25,292.71 L295.50,291.65 L295.75,290.59 L296.00,289.53 L296.25,288.47 L296.50,287.41 L296.75,286.35 L297.00,285.30 L297.25,284.26 L297.50,283.23 L297.75,282.21 L298.00,281.21 L298.25,280.23 L298.50,279.26 L298.75,278.32 L299.00,277.40 L299.25,276.51 L299.50,275.64 L299.75,274.81 L300.00,274.01 L300.25,273.24 L300.50,272.51 L300.75,271.82 L301.00,271.17 L301.25,270.56 L301.50,270.01 L301.75,269.49 L302.00,269.03 L302.25,268.63 L302.50,268.27 L302.75,267.98 L303.00,267.74 L303.25,267.56 L303.50,267.45 L303.75,267.40 L304.00,267.41 L304.25,267.43 L304.50,267.48 L304.75,267.54 L305.00,267.62 L305.25,267.71 L305.50,267.82 L305.75,267.95 L306.00,268.08 L306.25,268.24 L306.50,268.40 L306.75,268.58 L307.00,268.77 L307.25,268.96 L307.50,269.17 L307.75,269.38 L308.00,269.61 L308.25,269.84 L308.50,270.07 L308.75,270.32 L309.00,270.56 L309.25,270.81 L309.50,271.07 L309.75,271.33 L310.00,271.58 L310.25,271.84 L310.50,272.10 L310.75,272.36 L311.00,272.62 L311.25,272.87 L311.50,273.13 L311.75,273.38 L312.00,273.62 L312.25,273.86 L312.50,274.09 L312.75,274.33 L313.00,274.58 L313.25,274.84 L313.50,275.10 L313.75,275.37 L314.00,275.65 L314.25,275.93" fill="none" stroke="#0000ff" stroke-width="1.5" stroke-linejoin="round"/>
</g>
<text transform="translate(37.00,386.90) scale(0.92,1)" text-anchor="middle" class="tk">0</text>
<text transform="translate(83.00,386.90) scale(0.92,1)" text-anchor="middle" class="tk">10</text>
<text transform="translate(129.00,386.90) scale(0.92,1)" text-anchor="middle" class="tk">20</text>
<text transform="translate(175.00,386.90) scale(0.92,1)" text-anchor="middle" class="tk">30</text>
<text transform="translate(221.00,386.90) scale(0.92,1)" text-anchor="middle" class="tk">40</text>
<text transform="translate(267.00,386.90) scale(0.92,1)" text-anchor="middle" class="tk">50</text>
<text transform="translate(31.10,251.60) scale(0.92,1)" text-anchor="end" class="tk">1</text>
<text transform="translate(31.10,297.60) scale(0.92,1)" text-anchor="end" class="tk">0</text>
<text transform="translate(31.10,343.60) scale(0.92,1)" text-anchor="end" class="tk">-1</text>
<text transform="translate(38.10,224.40) scale(0.92,1)" class="ex"><tspan class="mul">×</tspan>10<tspan dx="0.8" dy="-6.9" class="sup">-4</tspan></text>
<text transform="translate(145.4,409.3) scale(1.19,1)" class="xl">Time(s)</text>
<text transform="translate(13.3,294.6) rotate(-90)" text-anchor="middle" class="yl">Tracking error(°)</text>
<rect x="204.5" y="233.4" width="102.5" height="21.799999999999983" fill="#fff" stroke="#1e1e1e" stroke-width="1.5"/>
<line x1="207.0" y1="244.3" x2="229.0" y2="244.3" stroke="#0000ff" stroke-width="1.5"/>
<text transform="translate(230,250.10) scale(0.875,1)" class="lg">TSMC-RBF</text>
<line x1="491.86" y1="227.4" x2="491.86" y2="365.0" stroke="#dcdcdc" stroke-width="1"/>
<line x1="583.72" y1="227.4" x2="583.72" y2="365.0" stroke="#dcdcdc" stroke-width="1"/>
<line x1="400" y1="255" x2="675.6" y2="255" stroke="#dcdcdc" stroke-width="1"/>
<line x1="400" y1="296.2" x2="675.6" y2="296.2" stroke="#dcdcdc" stroke-width="1"/>
<line x1="400" y1="337.4" x2="675.6" y2="337.4" stroke="#dcdcdc" stroke-width="1"/>
<line x1="400.0" y1="365.0" x2="400.0" y2="362.2" stroke="#1e1e1e" stroke-width="1"/>
<line x1="400.0" y1="227.4" x2="400.0" y2="230.20000000000002" stroke="#1e1e1e" stroke-width="1"/>
<line x1="491.86" y1="365.0" x2="491.86" y2="362.2" stroke="#1e1e1e" stroke-width="1"/>
<line x1="491.86" y1="227.4" x2="491.86" y2="230.20000000000002" stroke="#1e1e1e" stroke-width="1"/>
<line x1="583.72" y1="365.0" x2="583.72" y2="362.2" stroke="#1e1e1e" stroke-width="1"/>
<line x1="583.72" y1="227.4" x2="583.72" y2="230.20000000000002" stroke="#1e1e1e" stroke-width="1"/>
<line x1="675.5799999999999" y1="365.0" x2="675.5799999999999" y2="362.2" stroke="#1e1e1e" stroke-width="1"/>
<line x1="675.5799999999999" y1="227.4" x2="675.5799999999999" y2="230.20000000000002" stroke="#1e1e1e" stroke-width="1"/>
<line x1="400" y1="255" x2="402.8" y2="255" stroke="#1e1e1e" stroke-width="1"/>
<line x1="675.6" y1="255" x2="672.8000000000001" y2="255" stroke="#1e1e1e" stroke-width="1"/>
<line x1="400" y1="296.2" x2="402.8" y2="296.2" stroke="#1e1e1e" stroke-width="1"/>
<line x1="675.6" y1="296.2" x2="672.8000000000001" y2="296.2" stroke="#1e1e1e" stroke-width="1"/>
<line x1="400" y1="337.4" x2="402.8" y2="337.4" stroke="#1e1e1e" stroke-width="1"/>
<line x1="675.6" y1="337.4" x2="672.8000000000001" y2="337.4" stroke="#1e1e1e" stroke-width="1"/>
<rect x="400" y="227.4" width="275.6" height="137.6" fill="none" stroke="#1e1e1e" stroke-width="1.6"/>
<clipPath id="c4"><rect x="399.2" y="226.6" width="277.20000000000005" height="139.2"/></clipPath>
<g clip-path="url(#c4)"><path d="M401.00,366.00 L401.00,260.00 L401.60,334.00 L402.10,285.00 L402.60,332.00 L403.10,288.00 L403.50,326.00 L403.90,284.00 L404.60,276.70 L404.85,280.23 L405.10,283.88 L405.35,287.40 L405.60,290.53 L405.85,293.01 L406.10,294.58 L406.35,295.00 L406.60,294.86 L406.85,294.53 L407.10,294.02 L407.35,293.35 L407.60,292.53 L407.85,291.58 L408.10,290.51 L408.35,289.32 L408.60,288.05 L408.85,286.69 L409.10,285.26 L409.35,283.78 L409.60,282.26 L409.85,280.71 L410.10,279.15 L410.35,277.59 L410.60,276.04 L410.85,274.52 L411.10,273.04 L411.35,271.61 L411.60,270.25 L411.85,268.98 L412.10,267.79 L412.35,266.72 L412.60,265.77 L412.85,264.95 L413.10,264.28 L413.35,263.77 L413.60,263.44 L413.85,263.30 L414.10,263.35 L414.35,263.54 L414.60,263.87 L414.85,264.34 L415.10,264.93 L415.35,265.65 L415.60,266.48 L415.85,267.43 L416.10,268.48 L416.35,269.62 L416.60,270.86 L416.85,272.19 L417.10,273.60 L417.35,275.08 L417.60,276.64 L417.85,278.25 L418.10,279.92 L418.35,281.65 L418.60,283.42 L418.85,285.23 L419.10,287.07 L419.35,288.94 L419.60,290.83 L419.85,292.73 L420.10,294.65 L420.35,296.57 L420.60,298.48 L420.85,300.39 L421.10,302.29 L421.35,304.16 L421.60,306.01 L421.85,307.82 L422.10,309.60 L422.35,311.33 L422.60,313.02 L422.85,314.65 L423.10,316.21 L423.35,317.71 L423.60,319.13 L423.85,320.48 L424.10,321.74 L424.35,322.90 L424.60,323.97 L424.85,324.94 L425.10,325.79 L425.35,326.53 L425.60,327.15 L425.85,327.65 L426.10,328.01 L426.35,328.23 L426.60,328.30 L426.85,328.26 L427.10,328.14 L427.35,327.94 L427.60,327.66 L427.85,327.31 L428.10,326.89 L428.35,326.40 L428.60,325.85 L428.85,325.23 L429.10,324.55 L429.35,323.82 L429.60,323.02 L429.85,322.18 L430.10,321.28 L430.35,320.33 L430.60,319.34 L430.85,318.30 L431.10,317.23 L431.35,316.11 L431.60,314.96 L431.85,313.77 L432.10,312.55 L432.35,311.30 L432.60,310.03 L432.85,308.73 L433.10,307.41 L433.35,306.07 L433.60,304.72 L433.85,303.35 L434.10,301.96 L434.35,300.57 L434.60,299.18 L434.85,297.77 L435.10,296.37 L435.35,294.97 L435.60,293.56 L435.85,292.17 L436.10,290.78 L436.35,289.40 L436.60,288.04 L436.85,286.69 L437.10,285.36 L437.35,284.05 L437.60,282.76 L437.85,281.49 L438.10,280.26 L438.35,279.05 L438.60,277.88 L438.85,276.74 L439.10,275.64 L439.35,274.58 L439.60,273.56 L439.85,272.58 L440.10,271.66 L440.35,270.78 L440.60,269.95 L440.85,269.18 L441.10,268.47 L441.35,267.81 L441.60,267.22 L441.85,266.69 L442.10,266.23 L442.35,265.84 L442.60,265.52 L442.85,265.27 L443.10,265.10 L443.35,265.01 L443.60,265.01 L443.85,265.08 L444.10,265.22 L444.35,265.44 L444.60,265.73 L444.85,266.09 L445.10,266.51 L445.35,266.99 L445.60,267.54 L445.85,268.14 L446.10,268.79 L446.35,269.50 L446.60,270.25 L446.85,271.05 L447.10,271.90 L447.35,272.78 L447.60,273.70 L447.85,274.66 L448.10,275.65 L448.35,276.67 L448.60,277.71 L448.85,278.78 L449.10,279.88 L449.35,280.99 L449.60,282.11 L449.85,283.26 L450.10,284.41 L450.35,285.57 L450.60,286.73 L450.85,287.90 L451.10,289.07 L451.35,290.23 L451.60,291.39 L451.85,292.54 L452.10,293.69 L452.35,294.81 L452.60,295.92 L452.85,297.02 L453.10,298.09 L453.35,299.13 L453.60,300.15 L453.85,301.14 L454.10,302.10 L454.35,303.02 L454.60,303.90 L454.85,304.75 L455.10,305.55 L455.35,306.30 L455.60,307.01 L455.85,307.66 L456.10,308.26 L456.35,308.81 L456.60,309.29 L456.85,309.71 L457.10,310.07 L457.35,310.36 L457.60,310.58 L457.85,310.72 L458.10,310.79 L458.35,310.79 L458.60,310.71 L458.85,310.56 L459.10,310.36 L459.35,310.08 L459.60,309.75 L459.85,309.37 L460.10,308.93 L460.35,308.44 L460.60,307.90 L460.85,307.32 L461.10,306.70 L461.35,306.03 L461.60,305.34 L461.85,304.60 L462.10,303.84 L462.35,303.05 L462.60,302.24 L462.85,301.40 L463.10,300.55 L463.35,299.68 L463.60,298.80 L463.85,297.90 L464.10,297.00 L464.35,296.09 L464.60,295.19 L464.85,294.28 L465.10,293.38 L465.35,292.48 L465.60,291.60 L465.85,290.72 L466.10,289.87 L466.35,289.03 L466.60,288.21 L466.85,287.41 L467.10,286.65 L467.35,285.91 L467.60,285.20 L467.85,284.53 L468.10,283.90 L468.35,283.31 L468.60,282.76 L468.85,282.27 L469.10,281.82 L469.35,281.42 L469.60,281.08 L469.85,280.79 L470.10,280.57 L470.35,280.41 L470.60,280.32 L470.85,280.30 L471.10,280.39 L471.35,280.59 L471.60,280.91 L471.85,281.34 L472.10,281.87 L472.35,282.50 L472.60,283.22 L472.85,284.04 L473.10,284.93 L473.35,285.91 L473.60,286.95 L473.85,288.07 L474.10,289.25 L474.35,290.49 L474.60,291.78 L474.85,293.12 L475.10,294.50 L475.35,295.92 L475.60,297.38 L475.85,298.86 L476.10,300.36 L476.35,301.89 L476.60,303.43 L476.85,304.97 L477.10,306.52 L477.35,308.07 L477.60,309.60 L477.85,311.13 L478.10,312.64 L478.35,314.13 L478.60,315.59 L478.85,317.02 L479.10,318.41 L479.35,319.76 L479.60,321.06 L479.85,322.31 L480.10,323.50 L480.35,324.63 L480.60,325.69 L480.85,326.68 L481.10,327.59 L481.35,328.42 L481.60,329.16 L481.85,329.81 L482.10,330.36 L482.35,330.81 L482.60,331.15 L482.85,331.38 L483.10,331.49 L483.35,331.48 L483.60,331.39 L483.85,331.22 L484.10,330.96 L484.35,330.63 L484.60,330.23 L484.85,329.75 L485.10,329.20 L485.35,328.59 L485.60,327.91 L485.85,327.17 L486.10,326.37 L486.35,325.51 L486.60,324.60 L486.85,323.63 L487.10,322.62 L487.35,321.55 L487.60,320.45 L487.85,319.30 L488.10,318.11 L488.35,316.88 L488.60,315.62 L488.85,314.32 L489.10,313.00 L489.35,311.65 L489.60,310.27 L489.85,308.87 L490.10,307.45 L490.35,306.01 L490.60,304.56 L490.85,303.09 L491.10,301.62 L491.35,300.13 L491.60,298.64 L491.85,297.15 L492.10,295.66 L492.35,294.16 L492.60,292.68 L492.85,291.20 L493.10,289.73 L493.35,288.27 L493.60,286.82 L493.85,285.40 L494.10,283.99 L494.35,282.60 L494.60,281.24 L494.85,279.90 L495.10,278.59 L495.35,277.32 L495.60,276.08 L495.85,274.87 L496.10,273.71 L496.35,272.58 L496.60,271.50 L496.85,270.47 L497.10,269.48 L497.35,268.55 L497.60,267.67 L497.85,266.85 L498.10,266.08 L498.35,265.38 L498.60,264.74 L498.85,264.16 L499.10,263.66 L499.35,263.22 L499.60,262.86 L499.85,262.58 L500.10,262.37 L500.35,262.24 L500.60,262.20 L500.85,262.24 L501.10,262.34 L501.35,262.52 L501.60,262.76 L501.85,263.06 L502.10,263.42 L502.35,263.85 L502.60,264.33 L502.85,264.86 L503.10,265.45 L503.35,266.08 L503.60,266.76 L503.85,267.49 L504.10,268.26 L504.35,269.06 L504.60,269.91 L504.85,270.79 L505.10,271.70 L505.35,272.65 L505.60,273.62 L505.85,274.62 L506.10,275.64 L506.35,276.68 L506.60,277.74 L506.85,278.82 L507.10,279.91 L507.35,281.02 L507.60,282.13 L507.85,283.25 L508.10,284.37 L508.35,285.50 L508.60,286.63 L508.85,287.75 L509.10,288.87 L509.35,289.98 L509.60,291.09 L509.85,292.18 L510.10,293.26 L510.35,294.32 L510.60,295.36 L510.85,296.38 L511.10,297.38 L511.35,298.35 L511.60,299.30 L511.85,300.21 L512.10,301.09 L512.35,301.94 L512.60,302.74 L512.85,303.51 L513.10,304.24 L513.35,304.92 L513.60,305.55 L513.85,306.14 L514.10,306.67 L514.35,307.15 L514.60,307.58 L514.85,307.94 L515.10,308.24 L515.35,308.48 L515.60,308.66 L515.85,308.76 L516.10,308.80 L516.35,308.77 L516.60,308.66 L516.85,308.50 L517.10,308.27 L517.35,307.98 L517.60,307.64 L517.85,307.25 L518.10,306.81 L518.35,306.33 L518.60,305.80 L518.85,305.23 L519.10,304.63 L519.35,304.00 L519.60,303.33 L519.85,302.65 L520.10,301.93 L520.35,301.20 L520.60,300.45 L520.85,299.69 L521.10,298.92 L521.35,298.14 L521.60,297.36 L521.85,296.57 L522.10,295.79 L522.35,295.02 L522.60,294.25 L522.85,293.50 L523.10,292.76 L523.35,292.04 L523.60,291.34 L523.85,290.66 L524.10,290.02 L524.35,289.40 L524.60,288.82 L524.85,288.28 L525.10,287.78 L525.35,287.32 L525.60,286.91 L525.85,286.55 L526.10,286.24 L526.35,285.99 L526.60,285.80 L526.85,285.67 L527.10,285.61 L527.35,285.62 L527.60,285.73 L527.85,285.94 L528.10,286.24 L528.35,286.63 L528.60,287.11 L528.85,287.67 L529.10,288.31 L529.35,289.02 L529.60,289.80 L529.85,290.65 L530.10,291.56 L530.35,292.52 L530.60,293.55 L530.85,294.62 L531.10,295.74 L531.35,296.90 L531.60,298.10 L531.85,299.33 L532.10,300.59 L532.35,301.89 L532.60,303.20 L532.85,304.53 L533.10,305.88 L533.35,307.24 L533.60,308.60 L533.85,309.97 L534.10,311.34 L534.35,312.71 L534.60,314.06 L534.85,315.40 L535.10,316.73 L535.35,318.03 L535.60,319.31 L535.85,320.57 L536.10,321.79 L536.35,322.97 L536.60,324.12 L536.85,325.22 L537.10,326.27 L537.35,327.27 L537.60,328.21 L537.85,329.10 L538.10,329.92 L538.35,330.67 L538.60,331.36 L538.85,331.96 L539.10,332.49 L539.35,332.93 L539.60,333.29 L539.85,333.56 L540.10,333.73 L540.35,333.80 L540.60,333.77 L540.85,333.67 L541.10,333.48 L541.35,333.22 L541.60,332.89 L541.85,332.48 L542.10,332.00 L542.35,331.46 L542.60,330.85 L542.85,330.18 L543.10,329.44 L543.35,328.65 L543.60,327.80 L543.85,326.90 L544.10,325.95 L544.35,324.94 L544.60,323.89 L544.85,322.80 L545.10,321.66 L545.35,320.48 L545.60,319.26 L545.85,318.00 L546.10,316.71 L546.35,315.39 L546.60,314.04 L546.85,312.67 L547.10,311.26 L547.35,309.84 L547.60,308.39 L547.85,306.93 L548.10,305.45 L548.35,303.96 L548.60,302.45 L548.85,300.94 L549.10,299.41 L549.35,297.89 L549.60,296.36 L549.85,294.83 L550.10,293.30 L550.35,291.77 L550.60,290.25 L550.85,288.75 L551.10,287.25 L551.35,285.76 L551.60,284.29 L551.85,282.84 L552.10,281.40 L552.35,279.99 L552.60,278.60 L552.85,277.24 L553.10,275.91 L553.35,274.61 L553.60,273.34 L553.85,272.11 L554.10,270.91 L554.35,269.75 L554.60,268.64 L554.85,267.57 L555.10,266.55 L555.35,265.57 L555.60,264.65 L555.85,263.78 L556.10,262.96 L556.35,262.21 L556.60,261.51 L556.85,260.88 L557.10,260.31 L557.35,259.80 L557.60,259.37 L557.85,259.00 L558.10,258.71 L558.35,258.50 L558.60,258.36 L558.85,258.30 L559.10,258.32 L559.35,258.42 L559.60,258.60 L559.85,258.84 L560.10,259.16 L560.35,259.54 L560.60,259.98 L560.85,260.48 L561.10,261.04 L561.35,261.66 L561.60,262.33 L561.85,263.05 L562.10,263.82 L562.35,264.63 L562.60,265.49 L562.85,266.38 L563.10,267.32 L563.35,268.29 L563.60,269.29 L563.85,270.32 L564.10,271.37 L564.35,272.46 L564.60,273.56 L564.85,274.68 L565.10,275.82 L565.35,276.97 L565.60,278.14 L565.85,279.31 L566.10,280.49 L566.35,281.68 L566.60,282.86 L566.85,284.04 L567.10,285.22 L567.35,286.39 L567.60,287.56 L567.85,288.71 L568.10,289.84 L568.35,290.96 L568.60,292.06 L568.85,293.14 L569.10,294.19 L569.35,295.22 L569.60,296.21 L569.85,297.17 L570.10,298.10 L570.35,298.99 L570.60,299.83 L570.85,300.64 L571.10,301.40 L571.35,302.11 L571.60,302.77 L571.85,303.37 L572.10,303.92 L572.35,304.42 L572.60,304.85 L572.85,305.21 L573.10,305.51 L573.35,305.74 L573.60,305.90 L573.85,305.99 L574.10,306.00 L574.35,305.94 L574.60,305.84 L574.85,305.69 L575.10,305.48 L575.35,305.23 L575.60,304.94 L575.85,304.61 L576.10,304.25 L576.35,303.85 L576.60,303.42 L576.85,302.96 L577.10,302.48 L577.35,301.97 L577.60,301.45 L577.85,300.91 L578.10,300.36 L578.35,299.79 L578.60,299.22 L578.85,298.65 L579.10,298.07 L579.35,297.49 L579.60,296.92 L579.85,296.36 L580.10,295.80 L580.35,295.26 L580.60,294.73 L580.85,294.22 L581.10,293.73 L581.35,293.27 L581.60,292.84 L581.85,292.43 L582.10,292.06 L582.35,291.72 L582.60,291.42 L582.85,291.16 L583.10,290.95 L583.35,290.79 L583.60,290.67 L583.85,290.61 L584.10,290.61 L584.35,290.68 L584.60,290.85 L584.85,291.09 L585.10,291.41 L585.35,291.80 L585.60,292.27 L585.85,292.80 L586.10,293.39 L586.35,294.05 L586.60,294.77 L586.85,295.54 L587.10,296.37 L587.35,297.24 L587.60,298.16 L587.85,299.12 L588.10,300.12 L588.35,301.16 L588.60,302.23 L588.85,303.34 L589.10,304.47 L589.35,305.62 L589.60,306.79 L589.85,307.98 L590.10,309.19 L590.35,310.41 L590.60,311.63 L590.85,312.86 L591.10,314.09 L591.35,315.32 L591.60,316.55 L591.85,317.77 L592.10,318.98 L592.35,320.17 L592.60,321.35 L592.85,322.51 L593.10,323.64 L593.35,324.75 L593.60,325.83 L593.85,326.87 L594.10,327.88 L594.35,328.85 L594.60,329.78 L594.85,330.66 L595.10,331.50 L595.35,332.28 L595.60,333.01 L595.85,333.68 L596.10,334.29 L596.35,334.83 L596.60,335.31 L596.85,335.72 L597.10,336.05 L597.35,336.31 L597.60,336.49 L597.85,336.58 L598.10,336.59 L598.35,336.51 L598.60,336.34 L598.85,336.08 L599.10,335.73 L599.35,335.30 L599.60,334.79 L599.85,334.21 L600.10,333.55 L600.35,332.82 L600.60,332.02 L600.85,331.15 L601.10,330.22 L601.35,329.23 L601.60,328.18 L601.85,327.07 L602.10,325.91 L602.35,324.69 L602.60,323.43 L602.85,322.13 L603.10,320.78 L603.35,319.39 L603.60,317.96 L603.85,316.49 L604.10,315.00 L604.35,313.47 L604.60,311.92 L604.85,310.34 L605.10,308.73 L605.35,307.11 L605.60,305.47 L605.85,303.82 L606.10,302.15 L606.35,300.48 L606.60,298.80 L606.85,297.11 L607.10,295.43 L607.35,293.74 L607.60,292.06 L607.85,290.38 L608.10,288.71 L608.35,287.06 L608.60,285.41 L608.85,283.79 L609.10,282.18 L609.35,280.60 L609.60,279.04 L609.85,277.51 L610.10,276.00 L610.35,274.53 L610.60,273.10 L610.85,271.70 L611.10,270.34 L611.35,269.02 L611.60,267.75 L611.85,266.53 L612.10,265.36 L612.35,264.24 L612.60,263.18 L612.85,262.17 L613.10,261.23 L613.35,260.35 L613.60,259.54 L613.85,258.79 L614.10,258.12 L614.35,257.52 L614.60,256.99 L614.85,256.55 L615.10,256.19 L615.35,255.91 L615.60,255.72 L615.85,255.62 L616.10,255.61 L616.35,255.67 L616.60,255.80 L616.85,256.00 L617.10,256.25 L617.35,256.58 L617.60,256.96 L617.85,257.39 L618.10,257.88 L618.35,258.43 L618.60,259.02 L618.85,259.66 L619.10,260.35 L619.35,261.08 L619.60,261.85 L619.85,262.66 L620.10,263.51 L620.35,264.39 L620.60,265.30 L620.85,266.25 L621.10,267.22 L621.35,268.22 L621.60,269.24 L621.85,270.28 L622.10,271.34 L622.35,272.42 L622.60,273.51 L622.85,274.62 L623.10,275.73 L623.35,276.86 L623.60,277.99 L623.85,279.12 L624.10,280.25 L624.35,281.39 L624.60,282.52 L624.85,283.64 L625.10,284.76 L625.35,285.87 L625.60,286.96 L625.85,288.04 L626.10,289.11 L626.35,290.16 L626.60,291.18 L626.85,292.18 L627.10,293.16 L627.35,294.11 L627.60,295.03 L627.85,295.92 L628.10,296.77 L628.35,297.59 L628.60,298.37 L628.85,299.11 L629.10,299.81 L629.35,300.46 L629.60,301.06 L629.85,301.61 L630.10,302.11 L630.35,302.56 L630.60,302.95 L630.85,303.29 L631.10,303.56 L631.35,303.77 L631.60,303.91 L631.85,303.99 L632.10,304.00 L632.35,303.95 L632.60,303.87 L632.85,303.74 L633.10,303.57 L633.35,303.37 L633.60,303.13 L633.85,302.86 L634.10,302.56 L634.35,302.24 L634.60,301.90 L634.85,301.53 L635.10,301.15 L635.35,300.76 L635.60,300.35 L635.85,299.93 L636.10,299.51 L636.35,299.09 L636.60,298.66 L636.85,298.24 L637.10,297.82 L637.35,297.41 L637.60,297.01 L637.85,296.62 L638.10,296.25 L638.35,295.89 L638.60,295.56 L638.85,295.26 L639.10,294.98 L639.35,294.73 L639.60,294.51 L639.85,294.32 L640.10,294.18 L640.35,294.08 L640.60,294.02 L640.85,294.00 L641.10,294.06 L641.35,294.21 L641.60,294.43 L641.85,294.73 L642.10,295.11 L642.35,295.56 L642.60,296.07 L642.85,296.66 L643.10,297.30 L643.35,298.00 L643.60,298.76 L643.85,299.57 L644.10,300.44 L644.35,301.34 L644.60,302.30 L644.85,303.29 L645.10,304.32 L645.35,305.38 L645.60,306.48 L645.85,307.61 L646.10,308.75 L646.35,309.93 L646.60,311.12 L646.85,312.32 L647.10,313.54 L647.35,314.77 L647.60,316.01 L647.85,317.25 L648.10,318.49 L648.35,319.73 L648.60,320.96 L648.85,322.19 L649.10,323.40 L649.35,324.60 L649.60,325.78 L649.85,326.94 L650.10,328.07 L650.35,329.18 L650.60,330.26 L650.85,331.30 L651.10,332.31 L651.35,333.28 L651.60,334.21 L651.85,335.09 L652.10,335.92 L652.35,336.70 L652.60,337.43 L652.85,338.09 L653.10,338.70 L653.35,339.24 L653.60,339.72 L653.85,340.13 L654.10,340.46 L654.35,340.71 L654.60,340.89 L654.85,340.98 L655.10,340.99 L655.35,340.90 L655.60,340.71 L655.85,340.42 L656.10,340.03 L656.35,339.56 L656.60,338.99 L656.85,338.34 L657.10,337.61 L657.35,336.80 L657.60,335.91 L657.85,334.95 L658.10,333.91 L658.35,332.81 L658.60,331.64 L658.85,330.41 L659.10,329.12 L659.35,327.77 L659.60,326.37 L659.85,324.92 L660.10,323.42 L660.35,321.87 L660.60,320.29 L660.85,318.66 L661.10,317.00 L661.35,315.30 L661.60,313.57 L661.85,311.82 L662.10,310.04 L662.35,308.24 L662.60,306.42 L662.85,304.58 L663.10,302.73 L663.35,300.87 L663.60,299.00 L663.85,297.12 L664.10,295.25 L664.35,293.38 L664.60,291.51 L664.85,289.64 L665.10,287.79 L665.35,285.95 L665.60,284.13 L665.85,282.32 L666.10,280.54 L666.35,278.78 L666.60,277.04 L666.85,275.34 L667.10,273.67 L667.35,272.04 L667.60,270.44 L667.85,268.89 L668.10,267.38 L668.35,265.92 L668.60,264.50 L668.85,263.15 L669.10,261.84 L669.35,260.60 L669.60,259.42 L669.85,258.30 L670.10,257.26 L670.35,256.28 L670.60,255.37 L670.85,254.55 L671.10,253.80 L671.35,253.13 L671.60,252.55 L671.85,252.06 L672.10,251.65 L672.35,251.34 L672.60,251.13 L672.85,251.02 L673.10,251.00 L673.35,251.01 L673.60,251.02 L673.85,251.04 L674.10,251.07 L674.35,251.12 L674.60,251.17 L674.85,251.24 L675.10,251.33 L675.35,251.43 L675.60,251.55 L675.85,251.69 L676.10,251.85 L676.35,252.03 L676.60,252.24 L676.85,252.47 L677.10,252.72 L677.35,253.01 L677.60,253.32" fill="none" stroke="#ff0000" stroke-width="1.5" stroke-linejoin="round"/>
</g>
<text transform="translate(399.40,386.90) scale(0.92,1)" text-anchor="middle" class="tk">0</text>
<text transform="translate(491.26,386.90) scale(0.92,1)" text-anchor="middle" class="tk">20</text>
<text transform="translate(583.12,386.90) scale(0.92,1)" text-anchor="middle" class="tk">40</text>
<text transform="translate(674.98,386.90) scale(0.92,1)" text-anchor="middle" class="tk">60</text>
<text transform="translate(394.00,262.00) scale(0.92,1)" text-anchor="end" class="tk">2</text>
<text transform="translate(394.00,303.20) scale(0.92,1)" text-anchor="end" class="tk">0</text>
<text transform="translate(394.00,344.40) scale(0.92,1)" text-anchor="end" class="tk">-2</text>
<text transform="translate(401.00,224.40) scale(0.92,1)" class="ex"><tspan class="mul">×</tspan>10<tspan dx="0.8" dy="-6.9" class="sup">-5</tspan></text>
<text transform="translate(511.4,409.3) scale(1.19,1)" class="xl">Time(s)</text>
<text transform="translate(377,294.6) rotate(-90)" text-anchor="middle" class="yl">Tracking error(°)</text>
<rect x="566" y="233.4" width="105" height="21.799999999999983" fill="#fff" stroke="#1e1e1e" stroke-width="1.5"/>
<line x1="568.5" y1="244.3" x2="590.5" y2="244.3" stroke="#ff0000" stroke-width="1.5"/>
<text transform="translate(591,250.10) scale(0.875,1)" class="lg">TSMC-SVM</text>
</g>
</svg>
</body></html>
